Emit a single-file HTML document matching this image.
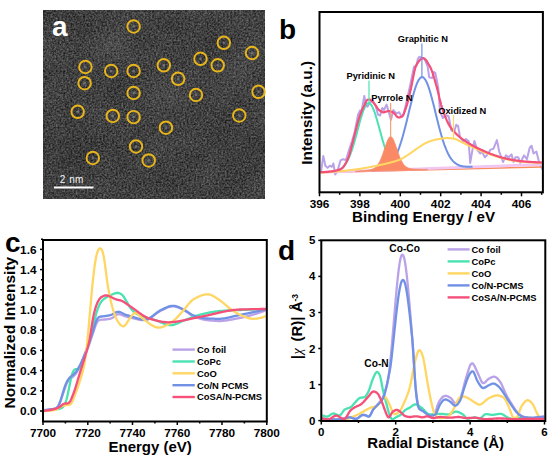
<!DOCTYPE html>
<html><head><meta charset="utf-8"><style>
html,body{margin:0;padding:0;background:#fff;width:550px;height:461px;overflow:hidden}
svg{display:block;font-family:"Liberation Sans", sans-serif}
</style></head><body>
<svg width="550" height="461" viewBox="0 0 550 461">
<defs>
<filter id="noise" x="43.3" y="10.2" width="221.7" height="188.4" filterUnits="userSpaceOnUse" color-interpolation-filters="sRGB">
<feTurbulence type="fractalNoise" baseFrequency="0.55" numOctaves="2" seed="4" result="t1"/>
<feColorMatrix in="t1" type="matrix" values="1 0 0 0 0  1 0 0 0 0  1 0 0 0 0  0 0 0 0 1" result="n1"/>
<feTurbulence type="fractalNoise" baseFrequency="0.03" numOctaves="2" seed="11" result="t2"/>
<feColorMatrix in="t2" type="matrix" values="1 0 0 0 0  1 0 0 0 0  1 0 0 0 0  0 0 0 0 1" result="n2"/>
<feComposite in="n1" in2="n2" operator="arithmetic" k1="0" k2="0.85" k3="0.15" k4="0" result="c"/>
<feComponentTransfer in="c"><feFuncR type="linear" slope="0.55" intercept="-0.02"/><feFuncG type="linear" slope="0.55" intercept="-0.02"/><feFuncB type="linear" slope="0.55" intercept="-0.02"/></feComponentTransfer>
</filter>
<radialGradient id="rgfff"><stop offset="0" stop-color="#fff" stop-opacity="1"/><stop offset="1" stop-color="#fff" stop-opacity="0"/></radialGradient>
<radialGradient id="rg000"><stop offset="0" stop-color="#000" stop-opacity="1"/><stop offset="1" stop-color="#000" stop-opacity="0"/></radialGradient>
</defs>
<rect width="550" height="461" fill="#fff"/>
<rect x="43.3" y="10.2" width="221.7" height="188.4" fill="#000" filter="url(#noise)"/>
<clipPath id="clipa"><rect x="43.3" y="10.2" width="221.7" height="188.4"/></clipPath>
<g clip-path="url(#clipa)">
<ellipse cx="108" cy="48" rx="30" ry="22" fill="url(#rgfff)" opacity="0.05"/>
<ellipse cx="170" cy="100" rx="32" ry="28" fill="url(#rgfff)" opacity="0.06"/>
<ellipse cx="236" cy="70" rx="36" ry="30" fill="url(#rgfff)" opacity="0.05"/>
<ellipse cx="62" cy="162" rx="30" ry="40" fill="url(#rg000)" opacity="0.1"/>
<ellipse cx="232" cy="150" rx="40" ry="28" fill="url(#rg000)" opacity="0.08"/>
<ellipse cx="172" cy="22" rx="30" ry="14" fill="url(#rg000)" opacity="0.06"/>
</g>
<text x="52" y="36" font-size="28" font-weight="bold" text-anchor="start" fill="#fff" >a</text>
<circle cx="133.6" cy="26.5" r="1.4" fill="#9a9a9a" opacity="0.5"/>
<circle cx="133.6" cy="26.5" r="6.25" fill="none" stroke="#e8b51a" stroke-width="1.95"/>
<circle cx="223.8" cy="42.8" r="1.4" fill="#9a9a9a" opacity="0.5"/>
<circle cx="223.8" cy="42.8" r="6.25" fill="none" stroke="#e8b51a" stroke-width="1.95"/>
<circle cx="252" cy="53" r="1.4" fill="#9a9a9a" opacity="0.5"/>
<circle cx="252" cy="53" r="6.25" fill="none" stroke="#e8b51a" stroke-width="1.95"/>
<circle cx="200.5" cy="58.8" r="1.4" fill="#9a9a9a" opacity="0.5"/>
<circle cx="200.5" cy="58.8" r="6.25" fill="none" stroke="#e8b51a" stroke-width="1.95"/>
<circle cx="217.7" cy="65.3" r="1.4" fill="#9a9a9a" opacity="0.5"/>
<circle cx="217.7" cy="65.3" r="6.25" fill="none" stroke="#e8b51a" stroke-width="1.95"/>
<circle cx="163.8" cy="65.3" r="1.4" fill="#9a9a9a" opacity="0.5"/>
<circle cx="163.8" cy="65.3" r="6.25" fill="none" stroke="#e8b51a" stroke-width="1.95"/>
<circle cx="85.4" cy="67" r="1.4" fill="#9a9a9a" opacity="0.5"/>
<circle cx="85.4" cy="67" r="6.25" fill="none" stroke="#e8b51a" stroke-width="1.95"/>
<circle cx="111.2" cy="71" r="1.4" fill="#9a9a9a" opacity="0.5"/>
<circle cx="111.2" cy="71" r="6.25" fill="none" stroke="#e8b51a" stroke-width="1.95"/>
<circle cx="133.6" cy="71" r="1.4" fill="#9a9a9a" opacity="0.5"/>
<circle cx="133.6" cy="71" r="6.25" fill="none" stroke="#e8b51a" stroke-width="1.95"/>
<circle cx="178.1" cy="78.8" r="1.4" fill="#9a9a9a" opacity="0.5"/>
<circle cx="178.1" cy="78.8" r="6.25" fill="none" stroke="#e8b51a" stroke-width="1.95"/>
<circle cx="84.6" cy="83.2" r="1.4" fill="#9a9a9a" opacity="0.5"/>
<circle cx="84.6" cy="83.2" r="6.25" fill="none" stroke="#e8b51a" stroke-width="1.95"/>
<circle cx="133.6" cy="93" r="1.4" fill="#9a9a9a" opacity="0.5"/>
<circle cx="133.6" cy="93" r="6.25" fill="none" stroke="#e8b51a" stroke-width="1.95"/>
<circle cx="196" cy="95" r="1.4" fill="#9a9a9a" opacity="0.5"/>
<circle cx="196" cy="95" r="6.25" fill="none" stroke="#e8b51a" stroke-width="1.95"/>
<circle cx="258.5" cy="91.8" r="1.4" fill="#9a9a9a" opacity="0.5"/>
<circle cx="258.5" cy="91.8" r="6.25" fill="none" stroke="#e8b51a" stroke-width="1.95"/>
<circle cx="77.7" cy="111.8" r="1.4" fill="#9a9a9a" opacity="0.5"/>
<circle cx="77.7" cy="111.8" r="6.25" fill="none" stroke="#e8b51a" stroke-width="1.95"/>
<circle cx="112.8" cy="115.9" r="1.4" fill="#9a9a9a" opacity="0.5"/>
<circle cx="112.8" cy="115.9" r="6.25" fill="none" stroke="#e8b51a" stroke-width="1.95"/>
<circle cx="133.6" cy="117.1" r="1.4" fill="#9a9a9a" opacity="0.5"/>
<circle cx="133.6" cy="117.1" r="6.25" fill="none" stroke="#e8b51a" stroke-width="1.95"/>
<circle cx="239.3" cy="115.5" r="1.4" fill="#9a9a9a" opacity="0.5"/>
<circle cx="239.3" cy="115.5" r="6.25" fill="none" stroke="#e8b51a" stroke-width="1.95"/>
<circle cx="165.9" cy="127.7" r="1.4" fill="#9a9a9a" opacity="0.5"/>
<circle cx="165.9" cy="127.7" r="6.25" fill="none" stroke="#e8b51a" stroke-width="1.95"/>
<circle cx="136" cy="146.5" r="1.4" fill="#9a9a9a" opacity="0.5"/>
<circle cx="136" cy="146.5" r="6.25" fill="none" stroke="#e8b51a" stroke-width="1.95"/>
<circle cx="92.8" cy="158" r="1.4" fill="#9a9a9a" opacity="0.5"/>
<circle cx="92.8" cy="158" r="6.25" fill="none" stroke="#e8b51a" stroke-width="1.95"/>
<circle cx="148.7" cy="160.4" r="1.4" fill="#9a9a9a" opacity="0.5"/>
<circle cx="148.7" cy="160.4" r="6.25" fill="none" stroke="#e8b51a" stroke-width="1.95"/>
<rect x="54" y="186.5" width="39.5" height="2" fill="#fff"/>
<text x="71.5" y="183" font-size="10" font-weight="normal" text-anchor="middle" fill="#f4f4f4" >2&#8201;&#8201;nm</text>
<text x="279" y="39" font-size="28" font-weight="bold" text-anchor="start" fill="#000" >b</text>
<clipPath id="clipb"><rect x="320.5" y="13" width="221.39999999999998" height="178.3"/></clipPath>
<g clip-path="url(#clipb)">
<path d="M320.0 171.5 L321.1 171.1 L323.3 155.9 L325.4 165.7 L327.6 167.9 L329.8 165.7 L331.9 166.8 L333.4 163.5 L335.2 174.4 L337.4 171.1 L340.6 160.3 L342.8 159.2 L346.0 160.0 L349.0 150.0 L352.0 141.0 L354.7 132.0 L358.0 114.7 L360.1 110.4 L361.5 111.5 L364.3 96.0 L365.9 104.6 L367.5 106.8 L369.2 103.5 L372.5 100.3 L375.7 105.7 L377.9 114.5 L380.1 115.5 L382.3 107.9 L383.9 110.1 L386.6 104.6 L388.8 112.3 L391.0 119.9 L393.2 110.1 L396.5 113.4 L399.2 112.3 L401.8 116.9 L403.4 115.3 L407.2 98.6 L410.2 85.0 L414.0 66.7 L416.3 66.0 L417.8 59.1 L419.3 56.8 L421.6 57.6 L424.6 59.1 L427.7 66.7 L429.2 77.4 L432.2 78.1 L433.8 72.0 L435.3 72.8 L438.3 88.0 L440.0 111.5 L442.9 118.0 L445.7 115.3 L448.6 116.2 L451.5 130.5 L454.3 131.5 L456.2 124.8 L458.1 125.8 L460.0 137.2 L462.9 141.0 L465.8 139.1 L468.6 141.0 L470.2 163.0 L472.5 149.6 L474.4 141.0 L477.2 149.6 L480.1 153.5 L482.0 151.5 L484.9 157.3 L487.7 154.4 L490.6 149.6 L493.5 148.7 L496.9 140.1 L499.2 151.5 L503.0 162.0 L505.9 155.4 L508.7 157.3 L511.6 154.4 L513.5 162.0 L515.4 157.3 L518.3 157.3 L520.2 163.0 L524.0 155.4 L526.9 159.2 L529.7 147.7 L531.6 145.8 L533.5 153.5 L536.4 151.5 L539.3 163.0 L542.1 168.7 L544.0 170.0" fill="none" stroke="#baa2e8" stroke-width="2" stroke-linejoin="round"/>
<path d="M319.5 172.5 L542.9 166.9" stroke="#f98c5e" stroke-width="1.5"/>
<path d="M319.5 172.4 L542.9 164.4" stroke="#f1c6f3" stroke-width="2.8"/>
<path d="M330.5 171.9 L331.0 171.8 L331.5 171.8 L332.0 171.7 L332.5 171.6 L333.0 171.6 L333.5 171.5 L334.0 171.4 L334.5 171.3 L335.0 171.2 L335.5 171.1 L336.0 171.0 L336.5 170.9 L337.0 170.7 L337.5 170.5 L338.0 170.3 L338.5 170.1 L339.0 169.9 L339.5 169.7 L340.0 169.4 L340.5 169.1 L341.0 168.7 L341.5 168.4 L342.0 168.0 L342.5 167.5 L343.0 167.1 L343.5 166.6 L344.0 166.0 L344.5 165.4 L345.0 164.7 L345.5 164.0 L346.0 163.3 L346.5 162.5 L347.0 161.6 L347.5 160.7 L348.0 159.7 L348.5 158.7 L349.0 157.6 L349.5 156.4 L350.0 155.2 L350.5 153.9 L351.0 152.5 L351.5 151.1 L352.0 149.6 L352.5 148.1 L353.0 146.5 L353.5 144.9 L354.0 143.2 L354.5 141.5 L355.0 139.7 L355.5 137.9 L356.0 136.1 L356.5 134.2 L357.0 132.4 L357.5 130.5 L358.0 128.6 L358.5 126.7 L359.0 124.9 L359.5 123.0 L360.0 121.2 L360.5 119.5 L361.0 117.8 L361.5 116.1 L362.0 114.5 L362.5 113.0 L363.0 111.6 L363.5 110.2 L364.0 109.0 L364.5 107.8 L365.0 106.8 L365.5 105.9 L366.0 105.1 L366.5 104.4 L367.0 103.9 L367.5 103.5 L368.0 103.3 L368.5 103.2 L369.0 103.2 L369.5 103.3 L370.0 103.6 L370.5 104.1 L371.0 104.7 L371.5 105.4 L372.0 106.2 L372.5 107.1 L373.0 108.2 L373.5 109.3 L374.0 110.6 L374.5 112.0 L375.0 113.4 L375.5 115.0 L376.0 116.6 L376.5 118.2 L377.0 119.9 L377.5 121.7 L378.0 123.5 L378.5 125.3 L379.0 127.1 L379.5 128.9 L380.0 130.8 L380.5 132.6 L381.0 134.4 L381.5 136.2 L382.0 138.0 L382.5 139.8 L383.0 141.5 L383.5 143.1 L384.0 144.8 L384.5 146.3 L385.0 147.8 L385.5 149.3 L386.0 150.7 L386.5 152.0 L387.0 153.3 L387.5 154.5 L388.0 155.7 L388.5 156.8 L389.0 157.8 L389.5 158.8 L390.0 159.7 L390.5 160.6 L391.0 161.4 L391.5 162.1 L392.0 162.8 L392.5 163.4 L393.0 164.0 L393.5 164.5 L394.0 165.0 L394.5 165.5 L395.0 165.9 L395.5 166.3 L396.0 166.6 L396.5 166.9 L397.0 167.2 L397.5 167.5 L398.0 167.7 L398.5 167.9 L399.0 168.1 L399.5 168.2 L400.0 168.4 L400.5 168.5 L401.0 168.6 L401.5 168.7 L402.0 168.8 L402.5 168.8 L403.0 168.9 L403.5 169.0 L404.0 169.0 L404.5 169.0 L405.0 169.1 L405.5 169.1 L406.0 169.1 L406.5 169.1 L407.0 169.1" fill="none" stroke="#4be2b2" stroke-width="2"/>
<path d="M371.5 170.5 L372.0 170.4 L372.5 170.4 L373.0 170.4 L373.5 170.3 L374.0 170.3 L374.5 170.3 L375.0 170.2 L375.5 170.2 L376.0 170.1 L376.5 170.1 L377.0 170.0 L377.5 169.9 L378.0 169.9 L378.5 169.8 L379.0 169.7 L379.5 169.6 L380.0 169.5 L380.5 169.4 L381.0 169.3 L381.5 169.2 L382.0 169.0 L382.5 168.9 L383.0 168.7 L383.5 168.5 L384.0 168.4 L384.5 168.1 L385.0 167.9 L385.5 167.7 L386.0 167.4 L386.5 167.1 L387.0 166.8 L387.5 166.5 L388.0 166.1 L388.5 165.7 L389.0 165.3 L389.5 164.8 L390.0 164.4 L390.5 163.8 L391.0 163.3 L391.5 162.7 L392.0 162.1 L392.5 161.4 L393.0 160.7 L393.5 159.9 L394.0 159.1 L394.5 158.2 L395.0 157.3 L395.5 156.3 L396.0 155.3 L396.5 154.3 L397.0 153.1 L397.5 152.0 L398.0 150.7 L398.5 149.4 L399.0 148.1 L399.5 146.7 L400.0 145.2 L400.5 143.7 L401.0 142.2 L401.5 140.5 L402.0 138.9 L402.5 137.2 L403.0 135.4 L403.5 133.6 L404.0 131.7 L404.5 129.8 L405.0 127.9 L405.5 125.9 L406.0 123.9 L406.5 121.9 L407.0 119.9 L407.5 117.8 L408.0 115.7 L408.5 113.7 L409.0 111.6 L409.5 109.5 L410.0 107.5 L410.5 105.4 L411.0 103.4 L411.5 101.4 L412.0 99.5 L412.5 97.6 L413.0 95.7 L413.5 93.9 L414.0 92.2 L414.5 90.5 L415.0 88.9 L415.5 87.4 L416.0 86.0 L416.5 84.6 L417.0 83.4 L417.5 82.2 L418.0 81.2 L418.5 80.3 L419.0 79.5 L419.5 78.8 L420.0 78.2 L420.5 77.7 L421.0 77.4 L421.5 77.2 L422.0 77.1 L422.5 77.2 L423.0 77.3 L423.5 77.6 L424.0 78.1 L424.5 78.6 L425.0 79.3 L425.5 80.0 L426.0 80.9 L426.5 81.9 L427.0 83.0 L427.5 84.2 L428.0 85.5 L428.5 86.9 L429.0 88.4 L429.5 90.0 L430.0 91.6 L430.5 93.3 L431.0 95.1 L431.5 96.9 L432.0 98.7 L432.5 100.7 L433.0 102.6 L433.5 104.6 L434.0 106.6 L434.5 108.6 L435.0 110.6 L435.5 112.7 L436.0 114.7 L436.5 116.8 L437.0 118.8 L437.5 120.8 L438.0 122.8 L438.5 124.7 L439.0 126.7 L439.5 128.6 L440.0 130.4 L440.5 132.2 L441.0 134.0 L441.5 135.8 L442.0 137.4 L442.5 139.1 L443.0 140.7 L443.5 142.2 L444.0 143.7 L444.5 145.1 L445.0 146.4 L445.5 147.7 L446.0 149.0 L446.5 150.2 L447.0 151.3 L447.5 152.4 L448.0 153.5 L448.5 154.4 L449.0 155.4 L449.5 156.2 L450.0 157.1 L450.5 157.8 L451.0 158.6 L451.5 159.3 L452.0 159.9 L452.5 160.5 L453.0 161.1 L453.5 161.6 L454.0 162.1 L454.5 162.5 L455.0 162.9 L455.5 163.3 L456.0 163.7 L456.5 164.0 L457.0 164.3 L457.5 164.6 L458.0 164.8 L458.5 165.0 L459.0 165.3 L459.5 165.4 L460.0 165.6 L460.5 165.8 L461.0 165.9 L461.5 166.0 L462.0 166.2 L462.5 166.3 L463.0 166.3 L463.5 166.4 L464.0 166.5 L464.5 166.6 L465.0 166.6 L465.5 166.7 L466.0 166.7 L466.5 166.7 L467.0 166.8 L467.5 166.8 L468.0 166.8 L468.5 166.8 L469.0 166.8 L469.5 166.8 L470.0 166.8 L470.5 166.8 L471.0 166.8 L471.5 166.8 L472.0 166.8 L472.5 166.8" fill="none" stroke="#7191e5" stroke-width="2"/>
<path d="M355.5 171.1 L356.0 171.1 L356.5 171.1 L357.0 171.1 L357.5 171.0 L358.0 171.0 L358.5 171.0 L359.0 170.9 L359.5 170.9 L360.0 170.9 L360.5 170.8 L361.0 170.8 L361.5 170.8 L362.0 170.7 L362.5 170.7 L363.0 170.7 L363.5 170.6 L364.0 170.6 L364.5 170.5 L365.0 170.5 L365.5 170.5 L366.0 170.4 L366.5 170.3 L367.0 170.3 L367.5 170.2 L368.0 170.2 L368.5 170.1 L369.0 170.0 L369.5 169.9 L370.0 169.8 L370.5 169.7 L371.0 169.6 L371.5 169.4 L372.0 169.2 L372.5 169.1 L373.0 168.8 L373.5 168.6 L374.0 168.3 L374.5 168.0 L375.0 167.7 L375.5 167.3 L376.0 166.8 L376.5 166.3 L377.0 165.7 L377.5 165.1 L378.0 164.4 L378.5 163.6 L379.0 162.8 L379.5 161.9 L380.0 160.9 L380.5 159.8 L381.0 158.7 L381.5 157.4 L382.0 156.2 L382.5 154.8 L383.0 153.4 L383.5 152.0 L384.0 150.5 L384.5 149.0 L385.0 147.5 L385.5 146.0 L386.0 144.5 L386.5 143.1 L387.0 141.8 L387.5 140.5 L388.0 139.4 L388.5 138.5 L389.0 137.7 L389.5 137.1 L390.0 136.7 L390.5 136.5 L391.0 136.6 L391.5 136.9 L392.0 137.4 L392.5 138.0 L393.0 138.9 L393.5 139.9 L394.0 141.1 L394.5 142.4 L395.0 143.7 L395.5 145.1 L396.0 146.6 L396.5 148.1 L397.0 149.6 L397.5 151.0 L398.0 152.5 L398.5 153.9 L399.0 155.2 L399.5 156.5 L400.0 157.7 L400.5 158.9 L401.0 159.9 L401.5 160.9 L402.0 161.9 L402.5 162.7 L403.0 163.5 L403.5 164.2 L404.0 164.8 L404.5 165.4 L405.0 165.9 L405.5 166.3 L406.0 166.7 L406.5 167.1 L407.0 167.4 L407.5 167.6 L408.0 167.9 L408.5 168.1 L409.0 168.2 L409.5 168.4 L410.0 168.5 L410.5 168.6 L411.0 168.7 L411.5 168.8 L412.0 168.9 L412.5 169.0 L413.0 169.0 L413.5 169.1 L414.0 169.1 L414.5 169.1 L415.0 169.2 L415.5 169.2 L416.0 169.2 L416.5 169.2 L417.0 169.3 L417.5 169.3 L418.0 169.3 L418.5 169.3 L419.0 169.3 L419.5 169.3 L420.0 169.3 L420.5 169.3 L421.0 169.3 L421.5 169.4 L422.0 169.4 L422.5 169.4 L423.0 169.4 L423.5 169.4 L424.0 169.4 L424.5 169.4 L425.0 169.4 L425.5 169.4 L426.0 169.4 L426.5 169.4 L427.0 169.4 L427.5 169.4 L427.5 169.8 L355.5 171.6 Z" fill="#fa8966" stroke="#f98a63" stroke-width="0.8"/>
<path d="M320.0 172.6 L320.2 172.6 L320.5 172.6 L320.8 172.6 L321.0 172.6 L321.2 172.5 L321.5 172.5 L321.8 172.5 L322.0 172.5 L322.2 172.5 L322.5 172.5 L322.8 172.5 L323.0 172.5 L323.2 172.4 L323.5 172.4 L323.8 172.4 L324.0 172.4 L324.2 172.4 L324.5 172.4 L324.8 172.4 L325.0 172.3 L325.2 172.3 L325.5 172.3 L325.8 172.3 L326.0 172.3 L326.2 172.3 L326.5 172.2 L326.8 172.2 L327.0 172.2 L327.2 172.2 L327.5 172.2 L327.8 172.2 L328.0 172.1 L328.2 172.1 L328.5 172.1 L328.8 172.1 L329.0 172.1 L329.2 172.1 L329.5 172.0 L329.8 172.0 L330.0 172.0 L330.2 172.0 L330.5 172.0 L330.8 172.0 L331.0 171.9 L331.2 171.9 L331.5 171.9 L331.8 171.9 L332.0 171.9 L332.2 171.8 L332.5 171.8 L332.8 171.8 L333.0 171.8 L333.2 171.8 L333.5 171.7 L333.8 171.7 L334.0 171.7 L334.2 171.7 L334.5 171.7 L334.8 171.6 L335.0 171.6 L335.2 171.6 L335.5 171.6 L335.8 171.6 L336.0 171.5 L336.2 171.5 L336.5 171.5 L336.8 171.5 L337.0 171.5 L337.2 171.4 L337.5 171.4 L337.8 171.4 L338.0 171.4 L338.2 171.4 L338.5 171.3 L338.8 171.3 L339.0 171.3 L339.2 171.3 L339.5 171.2 L339.8 171.2 L340.0 171.2 L340.2 171.2 L340.5 171.2 L340.8 171.1 L341.0 171.1 L341.2 171.1 L341.5 171.1 L341.8 171.0 L342.0 171.0 L342.2 171.0 L342.5 171.0 L342.8 170.9 L343.0 170.9 L343.2 170.9 L343.5 170.9 L343.8 170.8 L344.0 170.8 L344.2 170.8 L344.5 170.8 L344.8 170.7 L345.0 170.7 L345.2 170.7 L345.5 170.7 L345.8 170.6 L346.0 170.6 L346.2 170.6 L346.5 170.6 L346.8 170.5 L347.0 170.5 L347.2 170.5 L347.5 170.4 L347.8 170.4 L348.0 170.4 L348.2 170.4 L348.5 170.3 L348.8 170.3 L349.0 170.3 L349.2 170.2 L349.5 170.2 L349.8 170.2 L350.0 170.1 L350.2 170.1 L350.5 170.1 L350.8 170.1 L351.0 170.0 L351.2 170.0 L351.5 170.0 L351.8 169.9 L352.0 169.9 L352.2 169.9 L352.5 169.8 L352.8 169.8 L353.0 169.8 L353.2 169.7 L353.5 169.7 L353.8 169.7 L354.0 169.6 L354.2 169.6 L354.5 169.6 L354.8 169.5 L355.0 169.5 L355.2 169.5 L355.5 169.4 L355.8 169.4 L356.0 169.4 L356.2 169.3 L356.5 169.3 L356.8 169.3 L357.0 169.2 L357.2 169.2 L357.5 169.2 L357.8 169.1 L358.0 169.1 L358.2 169.1 L358.5 169.0 L358.8 169.0 L359.0 168.9 L359.2 168.9 L359.5 168.9 L359.8 168.8 L360.0 168.8 L360.2 168.8 L360.5 168.7 L360.8 168.7 L361.0 168.7 L361.2 168.6 L361.5 168.6 L361.8 168.5 L362.0 168.5 L362.2 168.5 L362.5 168.4 L362.8 168.4 L363.0 168.3 L363.2 168.3 L363.5 168.3 L363.8 168.2 L364.0 168.2 L364.2 168.1 L364.5 168.1 L364.8 168.0 L365.0 168.0 L365.2 168.0 L365.5 167.9 L365.8 167.9 L366.0 167.8 L366.2 167.8 L366.5 167.7 L366.8 167.7 L367.0 167.7 L367.2 167.6 L367.5 167.6 L367.8 167.5 L368.0 167.5 L368.2 167.4 L368.5 167.4 L368.8 167.3 L369.0 167.3 L369.2 167.2 L369.5 167.2 L369.8 167.1 L370.0 167.1 L370.2 167.0 L370.5 167.0 L370.8 166.9 L371.0 166.9 L371.2 166.9 L371.5 166.8 L371.8 166.8 L372.0 166.7 L372.2 166.7 L372.5 166.6 L372.8 166.6 L373.0 166.5 L373.2 166.5 L373.5 166.4 L373.8 166.3 L374.0 166.3 L374.2 166.2 L374.5 166.2 L374.8 166.1 L375.0 166.1 L375.2 166.0 L375.5 166.0 L375.8 165.9 L376.0 165.9 L376.2 165.8 L376.5 165.8 L376.8 165.7 L377.0 165.7 L377.2 165.6 L377.5 165.6 L377.8 165.5 L378.0 165.4 L378.2 165.4 L378.5 165.3 L378.8 165.3 L379.0 165.2 L379.2 165.2 L379.5 165.1 L379.8 165.1 L380.0 165.0 L380.2 164.9 L380.5 164.9 L380.8 164.8 L381.0 164.8 L381.2 164.7 L381.5 164.7 L381.8 164.6 L382.0 164.6 L382.2 164.5 L382.5 164.4 L382.8 164.4 L383.0 164.3 L383.2 164.3 L383.5 164.2 L383.8 164.2 L384.0 164.1 L384.2 164.0 L384.5 164.0 L384.8 163.9 L385.0 163.9 L385.2 163.8 L385.5 163.8 L385.8 163.7 L386.0 163.6 L386.2 163.6 L386.5 163.5 L386.8 163.5 L387.0 163.4 L387.2 163.4 L387.5 163.3 L387.8 163.2 L388.0 163.2 L388.2 163.1 L388.5 163.1 L388.8 163.0 L389.0 162.9 L389.2 162.9 L389.5 162.8 L389.8 162.7 L390.0 162.7 L390.2 162.6 L390.5 162.5 L390.8 162.5 L391.0 162.4 L391.2 162.3 L391.5 162.3 L391.8 162.2 L392.0 162.1 L392.2 162.1 L392.5 162.0 L392.8 161.9 L393.0 161.9 L393.2 161.8 L393.5 161.7 L393.8 161.6 L394.0 161.6 L394.2 161.5 L394.5 161.4 L394.8 161.3 L395.0 161.3 L395.2 161.2 L395.5 161.1 L395.8 161.0 L396.0 160.9 L396.2 160.9 L396.5 160.8 L396.8 160.7 L397.0 160.6 L397.2 160.5 L397.5 160.4 L397.8 160.3 L398.0 160.3 L398.2 160.2 L398.5 160.1 L398.8 160.0 L399.0 159.9 L399.2 159.8 L399.5 159.7 L399.8 159.6 L400.0 159.5 L400.2 159.4 L400.5 159.3 L400.8 159.2 L401.0 159.1 L401.2 159.0 L401.5 158.8 L401.8 158.7 L402.0 158.6 L402.2 158.4 L402.5 158.3 L402.8 158.2 L403.0 158.0 L403.2 157.9 L403.5 157.7 L403.8 157.6 L404.0 157.4 L404.2 157.3 L404.5 157.1 L404.8 157.0 L405.0 156.8 L405.2 156.6 L405.5 156.5 L405.8 156.3 L406.0 156.1 L406.2 156.0 L406.5 155.8 L406.8 155.6 L407.0 155.5 L407.2 155.3 L407.5 155.2 L407.8 155.0 L408.0 154.8 L408.2 154.7 L408.5 154.5 L408.8 154.3 L409.0 154.2 L409.2 154.0 L409.5 153.8 L409.8 153.7 L410.0 153.5 L410.2 153.3 L410.5 153.2 L410.8 153.0 L411.0 152.8 L411.2 152.6 L411.5 152.5 L411.8 152.3 L412.0 152.1 L412.2 151.9 L412.5 151.7 L412.8 151.6 L413.0 151.4 L413.2 151.2 L413.5 151.0 L413.8 150.8 L414.0 150.6 L414.2 150.5 L414.5 150.3 L414.8 150.1 L415.0 149.9 L415.2 149.7 L415.5 149.6 L415.8 149.4 L416.0 149.2 L416.2 149.0 L416.5 148.8 L416.8 148.7 L417.0 148.5 L417.2 148.3 L417.5 148.2 L417.8 148.0 L418.0 147.8 L418.2 147.7 L418.5 147.5 L418.8 147.3 L419.0 147.2 L419.2 147.0 L419.5 146.9 L419.8 146.7 L420.0 146.5 L420.2 146.4 L420.5 146.2 L420.8 146.0 L421.0 145.9 L421.2 145.7 L421.5 145.5 L421.8 145.4 L422.0 145.2 L422.2 145.0 L422.5 144.9 L422.8 144.7 L423.0 144.6 L423.2 144.4 L423.5 144.3 L423.8 144.1 L424.0 144.0 L424.2 143.8 L424.5 143.7 L424.8 143.5 L425.0 143.4 L425.2 143.3 L425.5 143.1 L425.8 143.0 L426.0 142.9 L426.2 142.8 L426.5 142.6 L426.8 142.5 L427.0 142.4 L427.2 142.3 L427.5 142.2 L427.8 142.1 L428.0 142.0 L428.2 141.9 L428.5 141.8 L428.8 141.7 L429.0 141.6 L429.2 141.5 L429.5 141.4 L429.8 141.4 L430.0 141.3 L430.2 141.2 L430.5 141.1 L430.8 141.0 L431.0 140.9 L431.2 140.8 L431.5 140.8 L431.8 140.7 L432.0 140.6 L432.2 140.5 L432.5 140.4 L432.8 140.4 L433.0 140.3 L433.2 140.2 L433.5 140.2 L433.8 140.1 L434.0 140.0 L434.2 140.0 L434.5 139.9 L434.8 139.8 L435.0 139.8 L435.2 139.7 L435.5 139.7 L435.8 139.6 L436.0 139.6 L436.2 139.5 L436.5 139.5 L436.8 139.4 L437.0 139.4 L437.2 139.3 L437.5 139.3 L437.8 139.3 L438.0 139.2 L438.2 139.2 L438.5 139.1 L438.8 139.1 L439.0 139.0 L439.2 139.0 L439.5 138.9 L439.8 138.9 L440.0 138.8 L440.2 138.8 L440.5 138.8 L440.8 138.7 L441.0 138.7 L441.2 138.6 L441.5 138.6 L441.8 138.6 L442.0 138.5 L442.2 138.5 L442.5 138.5 L442.8 138.4 L443.0 138.4 L443.2 138.4 L443.5 138.3 L443.8 138.3 L444.0 138.3 L444.2 138.3 L444.5 138.2 L444.8 138.2 L445.0 138.2 L445.2 138.2 L445.5 138.2 L445.8 138.1 L446.0 138.1 L446.2 138.1 L446.5 138.1 L446.8 138.1 L447.0 138.1 L447.2 138.1 L447.5 138.1 L447.8 138.1 L448.0 138.1 L448.2 138.1 L448.5 138.1 L448.8 138.1 L449.0 138.1 L449.2 138.2 L449.5 138.2 L449.8 138.2 L450.0 138.2 L450.2 138.2 L450.5 138.3 L450.8 138.3 L451.0 138.3 L451.2 138.3 L451.5 138.4 L451.8 138.4 L452.0 138.4 L452.2 138.5 L452.5 138.5 L452.8 138.5 L453.0 138.6 L453.2 138.6 L453.5 138.6 L453.8 138.7 L454.0 138.7 L454.2 138.8 L454.5 138.8 L454.8 138.8 L455.0 138.9 L455.2 139.0 L455.5 139.0 L455.8 139.1 L456.0 139.2 L456.2 139.3 L456.5 139.4 L456.8 139.6 L457.0 139.7 L457.2 139.8 L457.5 139.9 L457.8 140.1 L458.0 140.2 L458.2 140.4 L458.5 140.5 L458.8 140.6 L459.0 140.8 L459.2 140.9 L459.5 141.1 L459.8 141.2 L460.0 141.3 L460.2 141.5 L460.5 141.6 L460.8 141.7 L461.0 141.8 L461.2 142.0 L461.5 142.1 L461.8 142.2 L462.0 142.3 L462.2 142.5 L462.5 142.6 L462.8 142.7 L463.0 142.8 L463.2 143.0 L463.5 143.1 L463.8 143.2 L464.0 143.3 L464.2 143.5 L464.5 143.6 L464.8 143.7 L465.0 143.8 L465.2 144.0 L465.5 144.1 L465.8 144.2 L466.0 144.3 L466.2 144.4 L466.5 144.5 L466.8 144.7 L467.0 144.8 L467.2 144.9 L467.5 145.0 L467.8 145.1 L468.0 145.2 L468.2 145.3 L468.5 145.4 L468.8 145.5 L469.0 145.6 L469.2 145.7 L469.5 145.8 L469.8 145.9 L470.0 146.0 L470.2 146.1 L470.5 146.2 L470.8 146.4 L471.0 146.5 L471.2 146.6 L471.5 146.7 L471.8 146.8 L472.0 146.9 L472.2 147.0 L472.5 147.1 L472.8 147.2 L473.0 147.3 L473.2 147.4 L473.5 147.6 L473.8 147.7 L474.0 147.8 L474.2 147.9 L474.5 148.0 L474.8 148.1 L475.0 148.3 L475.2 148.4 L475.5 148.5 L475.8 148.6 L476.0 148.7 L476.2 148.8 L476.5 149.0 L476.8 149.1 L477.0 149.2 L477.2 149.3 L477.5 149.4 L477.8 149.5 L478.0 149.6 L478.2 149.8 L478.5 149.9 L478.8 150.0 L479.0 150.1 L479.2 150.2 L479.5 150.3 L479.8 150.4 L480.0 150.6 L480.2 150.7 L480.5 150.8 L480.8 150.9 L481.0 151.0 L481.2 151.1 L481.5 151.2 L481.8 151.3 L482.0 151.4 L482.2 151.5 L482.5 151.6 L482.8 151.7 L483.0 151.8 L483.2 151.9 L483.5 152.0 L483.8 152.1 L484.0 152.2 L484.2 152.3 L484.5 152.4 L484.8 152.5 L485.0 152.6 L485.2 152.7 L485.5 152.8 L485.8 152.9 L486.0 153.0 L486.2 153.1 L486.5 153.2 L486.8 153.2 L487.0 153.3 L487.2 153.4 L487.5 153.5 L487.8 153.6 L488.0 153.7 L488.2 153.8 L488.5 153.9 L488.8 154.0 L489.0 154.1 L489.2 154.1 L489.5 154.2 L489.8 154.3 L490.0 154.4 L490.2 154.5 L490.5 154.6 L490.8 154.7 L491.0 154.7 L491.2 154.8 L491.5 154.9 L491.8 155.0 L492.0 155.1 L492.2 155.2 L492.5 155.2 L492.8 155.3 L493.0 155.4 L493.2 155.5 L493.5 155.6 L493.8 155.6 L494.0 155.7 L494.2 155.8 L494.5 155.9 L494.8 156.0 L495.0 156.1 L495.2 156.1 L495.5 156.2 L495.8 156.3 L496.0 156.4 L496.2 156.4 L496.5 156.5 L496.8 156.6 L497.0 156.7 L497.2 156.8 L497.5 156.8 L497.8 156.9 L498.0 157.0 L498.2 157.1 L498.5 157.1 L498.8 157.2 L499.0 157.3 L499.2 157.4 L499.5 157.4 L499.8 157.5 L500.0 157.6 L500.2 157.7 L500.5 157.7 L500.8 157.8 L501.0 157.9 L501.2 158.0 L501.5 158.0 L501.8 158.1 L502.0 158.2 L502.2 158.2 L502.5 158.3 L502.8 158.4 L503.0 158.4 L503.2 158.5 L503.5 158.6 L503.8 158.6 L504.0 158.7 L504.2 158.7 L504.5 158.8 L504.8 158.9 L505.0 158.9 L505.2 159.0 L505.5 159.0 L505.8 159.1 L506.0 159.2 L506.2 159.2 L506.5 159.3 L506.8 159.3 L507.0 159.4 L507.2 159.4 L507.5 159.5 L507.8 159.6 L508.0 159.6 L508.2 159.7 L508.5 159.7 L508.8 159.8 L509.0 159.8 L509.2 159.9 L509.5 159.9 L509.8 160.0 L510.0 160.1 L510.2 160.1 L510.5 160.2 L510.8 160.2 L511.0 160.3 L511.2 160.3 L511.5 160.4 L511.8 160.4 L512.0 160.4 L512.2 160.5 L512.5 160.5 L512.8 160.6 L513.0 160.6 L513.2 160.7 L513.5 160.7 L513.8 160.8 L514.0 160.8 L514.2 160.8 L514.5 160.9 L514.8 160.9 L515.0 161.0 L515.2 161.0 L515.5 161.0 L515.8 161.1 L516.0 161.1 L516.2 161.1 L516.5 161.2 L516.8 161.2 L517.0 161.2 L517.2 161.3 L517.5 161.3 L517.8 161.3 L518.0 161.4 L518.2 161.4 L518.5 161.4 L518.8 161.4 L519.0 161.5 L519.2 161.5 L519.5 161.5 L519.8 161.5 L520.0 161.6 L520.2 161.6 L520.5 161.6 L520.8 161.7 L521.0 161.7 L521.2 161.7 L521.5 161.7 L521.8 161.7 L522.0 161.8 L522.2 161.8 L522.5 161.8 L522.8 161.8 L523.0 161.9 L523.2 161.9 L523.5 161.9 L523.8 161.9 L524.0 161.9 L524.2 162.0 L524.5 162.0 L524.8 162.0 L525.0 162.0 L525.2 162.0 L525.5 162.1 L525.8 162.1 L526.0 162.1 L526.2 162.1 L526.5 162.1 L526.8 162.2 L527.0 162.2 L527.2 162.2 L527.5 162.2 L527.8 162.2 L528.0 162.2 L528.2 162.3 L528.5 162.3 L528.8 162.3 L529.0 162.3 L529.2 162.3 L529.5 162.3 L529.8 162.4 L530.0 162.4 L530.2 162.4 L530.5 162.4 L530.8 162.4 L531.0 162.4 L531.2 162.5 L531.5 162.5 L531.8 162.5 L532.0 162.5 L532.2 162.5 L532.5 162.5 L532.8 162.5 L533.0 162.6 L533.2 162.6 L533.5 162.6 L533.8 162.6 L534.0 162.6 L534.2 162.6 L534.5 162.7 L534.8 162.7 L535.0 162.7 L535.2 162.7 L535.5 162.7 L535.8 162.7 L536.0 162.7 L536.2 162.7 L536.5 162.8 L536.8 162.8 L537.0 162.8 L537.2 162.8 L537.5 162.8 L537.8 162.8 L538.0 162.8 L538.2 162.8 L538.5 162.8 L538.8 162.9 L539.0 162.9 L539.2 162.9 L539.5 162.9 L539.8 162.9 L540.0 162.9 L540.2 162.9 L540.5 162.9 L540.8 162.9 L541.0 162.9 L541.2 163.0 L541.5 163.0 L541.8 163.0 L542.0 163.0 L542.2 163.0 L542.5 163.0 L542.8 163.0 L543.0 163.0" fill="none" stroke="#ffd662" stroke-width="2"/>
<path d="M320.0 172.2 L320.2 172.2 L320.5 172.2 L320.8 172.2 L321.0 172.2 L321.2 172.2 L321.5 172.2 L321.8 172.2 L322.0 172.2 L322.2 172.2 L322.5 172.1 L322.8 172.1 L323.0 172.1 L323.2 172.1 L323.5 172.1 L323.8 172.1 L324.0 172.1 L324.2 172.1 L324.5 172.0 L324.8 172.0 L325.0 172.0 L325.2 172.0 L325.5 172.0 L325.8 172.0 L326.0 171.9 L326.2 171.9 L326.5 171.9 L326.8 171.9 L327.0 171.9 L327.2 171.8 L327.5 171.8 L327.8 171.8 L328.0 171.8 L328.2 171.8 L328.5 171.7 L328.8 171.7 L329.0 171.7 L329.2 171.7 L329.5 171.6 L329.8 171.6 L330.0 171.6 L330.2 171.6 L330.5 171.6 L330.8 171.5 L331.0 171.5 L331.2 171.5 L331.5 171.4 L331.8 171.4 L332.0 171.4 L332.2 171.3 L332.5 171.3 L332.8 171.2 L333.0 171.2 L333.2 171.2 L333.5 171.1 L333.8 171.1 L334.0 171.0 L334.2 171.0 L334.5 170.9 L334.8 170.9 L335.0 170.8 L335.2 170.8 L335.5 170.7 L335.8 170.7 L336.0 170.6 L336.2 170.5 L336.5 170.5 L336.8 170.4 L337.0 170.4 L337.2 170.3 L337.5 170.2 L337.8 170.2 L338.0 170.1 L338.2 170.0 L338.5 169.9 L338.8 169.8 L339.0 169.8 L339.2 169.7 L339.5 169.6 L339.8 169.5 L340.0 169.4 L340.2 169.3 L340.5 169.1 L340.8 169.0 L341.0 168.9 L341.2 168.8 L341.5 168.6 L341.8 168.5 L342.0 168.3 L342.2 168.1 L342.5 167.9 L342.8 167.7 L343.0 167.4 L343.2 167.1 L343.5 166.8 L343.8 166.5 L344.0 166.1 L344.2 165.7 L344.5 165.4 L344.8 164.9 L345.0 164.5 L345.2 164.1 L345.5 163.6 L345.8 163.2 L346.0 162.7 L346.2 162.2 L346.5 161.7 L346.8 161.2 L347.0 160.6 L347.2 160.1 L347.5 159.6 L347.8 159.0 L348.0 158.5 L348.2 157.9 L348.5 157.3 L348.8 156.6 L349.0 155.9 L349.2 155.1 L349.5 154.3 L349.8 153.4 L350.0 152.6 L350.2 151.6 L350.5 150.7 L350.8 149.8 L351.0 148.8 L351.2 147.8 L351.5 146.8 L351.8 145.9 L352.0 144.9 L352.2 143.9 L352.5 143.0 L352.8 142.1 L353.0 141.1 L353.2 140.1 L353.5 139.1 L353.8 138.1 L354.0 137.1 L354.2 136.1 L354.5 135.1 L354.8 134.1 L355.0 133.1 L355.2 132.1 L355.5 131.1 L355.8 130.2 L356.0 129.3 L356.2 128.3 L356.5 127.4 L356.8 126.4 L357.0 125.5 L357.2 124.6 L357.5 123.6 L357.8 122.7 L358.0 121.8 L358.2 120.9 L358.5 120.0 L358.8 119.2 L359.0 118.3 L359.2 117.5 L359.5 116.8 L359.8 116.0 L360.0 115.3 L360.2 114.6 L360.5 113.9 L360.8 113.3 L361.0 112.6 L361.2 112.0 L361.5 111.4 L361.8 110.8 L362.0 110.2 L362.2 109.7 L362.5 109.1 L362.8 108.6 L363.0 108.0 L363.2 107.5 L363.5 107.0 L363.8 106.5 L364.0 106.0 L364.2 105.5 L364.5 105.0 L364.8 104.5 L365.0 104.0 L365.2 103.4 L365.5 102.8 L365.8 102.3 L366.0 101.8 L366.2 101.3 L366.5 100.8 L366.8 100.4 L367.0 100.1 L367.2 99.9 L367.5 99.8 L367.8 99.7 L368.0 99.7 L368.2 99.6 L368.5 99.6 L368.8 99.5 L369.0 99.5 L369.2 99.5 L369.5 99.5 L369.8 99.5 L370.0 99.6 L370.2 99.7 L370.5 99.8 L370.8 100.0 L371.0 100.2 L371.2 100.4 L371.5 100.6 L371.8 100.8 L372.0 101.1 L372.2 101.4 L372.5 101.7 L372.8 102.0 L373.0 102.3 L373.2 102.5 L373.5 102.8 L373.8 103.1 L374.0 103.4 L374.2 103.7 L374.5 104.0 L374.8 104.3 L375.0 104.6 L375.2 105.0 L375.5 105.3 L375.8 105.7 L376.0 106.1 L376.2 106.5 L376.5 106.9 L376.8 107.2 L377.0 107.6 L377.2 108.0 L377.5 108.3 L377.8 108.7 L378.0 109.0 L378.2 109.3 L378.5 109.6 L378.8 109.8 L379.0 110.0 L379.2 110.2 L379.5 110.4 L379.8 110.6 L380.0 110.7 L380.2 110.9 L380.5 111.1 L380.8 111.3 L381.0 111.4 L381.2 111.6 L381.5 111.7 L381.8 111.9 L382.0 112.0 L382.2 112.1 L382.5 112.2 L382.8 112.2 L383.0 112.3 L383.2 112.3 L383.5 112.3 L383.8 112.3 L384.0 112.3 L384.2 112.2 L384.5 112.2 L384.8 112.1 L385.0 112.0 L385.2 111.9 L385.5 111.9 L385.8 111.8 L386.0 111.7 L386.2 111.6 L386.5 111.5 L386.8 111.4 L387.0 111.3 L387.2 111.3 L387.5 111.2 L387.8 111.1 L388.0 111.1 L388.2 111.0 L388.5 111.0 L388.8 111.0 L389.0 111.0 L389.2 111.0 L389.5 111.1 L389.8 111.1 L390.0 111.2 L390.2 111.2 L390.5 111.3 L390.8 111.4 L391.0 111.5 L391.2 111.6 L391.5 111.7 L391.8 111.8 L392.0 111.9 L392.2 112.0 L392.5 112.2 L392.8 112.3 L393.0 112.4 L393.2 112.5 L393.5 112.7 L393.8 112.9 L394.0 113.1 L394.2 113.3 L394.5 113.6 L394.8 113.9 L395.0 114.2 L395.2 114.5 L395.5 114.8 L395.8 115.1 L396.0 115.5 L396.2 115.8 L396.5 116.1 L396.8 116.3 L397.0 116.6 L397.2 116.8 L397.5 117.0 L397.8 117.2 L398.0 117.4 L398.2 117.5 L398.5 117.5 L398.8 117.5 L399.0 117.5 L399.2 117.5 L399.5 117.4 L399.8 117.4 L400.0 117.3 L400.2 117.2 L400.5 117.1 L400.8 117.0 L401.0 116.9 L401.2 116.8 L401.5 116.7 L401.8 116.6 L402.0 116.4 L402.2 116.2 L402.5 116.0 L402.8 115.6 L403.0 115.2 L403.2 114.8 L403.5 114.3 L403.8 113.8 L404.0 113.2 L404.2 112.5 L404.5 111.9 L404.8 111.2 L405.0 110.5 L405.2 109.8 L405.5 109.1 L405.8 108.4 L406.0 107.7 L406.2 106.9 L406.5 106.2 L406.8 105.4 L407.0 104.6 L407.2 103.7 L407.5 102.8 L407.8 101.9 L408.0 100.9 L408.2 99.9 L408.5 98.9 L408.8 97.8 L409.0 96.8 L409.2 95.7 L409.5 94.6 L409.8 93.6 L410.0 92.5 L410.2 91.5 L410.5 90.4 L410.8 89.4 L411.0 88.3 L411.2 87.1 L411.5 85.9 L411.8 84.7 L412.0 83.4 L412.2 82.1 L412.5 80.8 L412.8 79.5 L413.0 78.2 L413.2 76.9 L413.5 75.6 L413.8 74.4 L414.0 73.2 L414.2 72.0 L414.5 70.9 L414.8 69.8 L415.0 68.9 L415.2 68.0 L415.5 67.1 L415.8 66.4 L416.0 65.8 L416.2 65.3 L416.5 64.9 L416.8 64.4 L417.0 64.0 L417.2 63.6 L417.5 63.2 L417.8 62.9 L418.0 62.5 L418.2 62.1 L418.5 61.8 L418.8 61.4 L419.0 61.1 L419.2 60.8 L419.5 60.5 L419.8 60.2 L420.0 59.9 L420.2 59.7 L420.5 59.4 L420.8 59.2 L421.0 59.0 L421.2 58.9 L421.5 58.7 L421.8 58.6 L422.0 58.4 L422.2 58.3 L422.5 58.3 L422.8 58.2 L423.0 58.2 L423.2 58.2 L423.5 58.2 L423.8 58.3 L424.0 58.4 L424.2 58.5 L424.5 58.7 L424.8 58.9 L425.0 59.1 L425.2 59.4 L425.5 59.6 L425.8 59.9 L426.0 60.2 L426.2 60.5 L426.5 60.9 L426.8 61.2 L427.0 61.6 L427.2 62.0 L427.5 62.4 L427.8 62.8 L428.0 63.2 L428.2 63.6 L428.5 64.1 L428.8 64.5 L429.0 64.9 L429.2 65.4 L429.5 65.8 L429.8 66.3 L430.0 66.7 L430.2 67.2 L430.5 67.6 L430.8 68.2 L431.0 68.7 L431.2 69.3 L431.5 70.0 L431.8 70.6 L432.0 71.3 L432.2 72.0 L432.5 72.7 L432.8 73.5 L433.0 74.2 L433.2 75.0 L433.5 75.8 L433.8 76.6 L434.0 77.5 L434.2 78.3 L434.5 79.2 L434.8 80.0 L435.0 80.9 L435.2 81.8 L435.5 82.7 L435.8 83.6 L436.0 84.5 L436.2 85.3 L436.5 86.2 L436.8 87.1 L437.0 88.0 L437.2 88.9 L437.5 89.8 L437.8 90.8 L438.0 91.8 L438.2 92.9 L438.5 93.9 L438.8 95.0 L439.0 96.1 L439.2 97.2 L439.5 98.3 L439.8 99.3 L440.0 100.4 L440.2 101.4 L440.5 102.4 L440.8 103.4 L441.0 104.3 L441.2 105.1 L441.5 106.0 L441.8 106.8 L442.0 107.6 L442.2 108.3 L442.5 109.1 L442.8 109.9 L443.0 110.6 L443.2 111.3 L443.5 112.1 L443.8 112.8 L444.0 113.5 L444.2 114.1 L444.5 114.8 L444.8 115.4 L445.0 116.1 L445.2 116.7 L445.5 117.3 L445.8 117.9 L446.0 118.5 L446.2 119.1 L446.5 119.7 L446.8 120.2 L447.0 120.8 L447.2 121.3 L447.5 121.9 L447.8 122.4 L448.0 122.9 L448.2 123.4 L448.5 123.9 L448.8 124.4 L449.0 124.8 L449.2 125.3 L449.5 125.7 L449.8 126.1 L450.0 126.5 L450.2 126.9 L450.5 127.2 L450.8 127.6 L451.0 127.9 L451.2 128.3 L451.5 128.6 L451.8 128.9 L452.0 129.2 L452.2 129.5 L452.5 129.8 L452.8 130.1 L453.0 130.4 L453.2 130.7 L453.5 131.0 L453.8 131.3 L454.0 131.5 L454.2 131.8 L454.5 132.1 L454.8 132.3 L455.0 132.6 L455.2 132.8 L455.5 133.1 L455.8 133.4 L456.0 133.6 L456.2 133.9 L456.5 134.1 L456.8 134.4 L457.0 134.6 L457.2 134.8 L457.5 135.1 L457.8 135.3 L458.0 135.5 L458.2 135.8 L458.5 136.0 L458.8 136.2 L459.0 136.4 L459.2 136.7 L459.5 136.9 L459.8 137.1 L460.0 137.3 L460.2 137.5 L460.5 137.7 L460.8 137.9 L461.0 138.1 L461.2 138.3 L461.5 138.5 L461.8 138.6 L462.0 138.8 L462.2 139.0 L462.5 139.2 L462.8 139.4 L463.0 139.6 L463.2 139.7 L463.5 139.9 L463.8 140.1 L464.0 140.3 L464.2 140.4 L464.5 140.6 L464.8 140.8 L465.0 140.9 L465.2 141.1 L465.5 141.3 L465.8 141.4 L466.0 141.6 L466.2 141.8 L466.5 141.9 L466.8 142.1 L467.0 142.3 L467.2 142.4 L467.5 142.6 L467.8 142.7 L468.0 142.9 L468.2 143.0 L468.5 143.2 L468.8 143.3 L469.0 143.5 L469.2 143.6 L469.5 143.8 L469.8 143.9 L470.0 144.1 L470.2 144.2 L470.5 144.4 L470.8 144.5 L471.0 144.6 L471.2 144.8 L471.5 144.9 L471.8 145.1 L472.0 145.2 L472.2 145.4 L472.5 145.5 L472.8 145.6 L473.0 145.8 L473.2 145.9 L473.5 146.0 L473.8 146.2 L474.0 146.3 L474.2 146.4 L474.5 146.6 L474.8 146.7 L475.0 146.8 L475.2 147.0 L475.5 147.1 L475.8 147.2 L476.0 147.3 L476.2 147.5 L476.5 147.6 L476.8 147.7 L477.0 147.8 L477.2 148.0 L477.5 148.1 L477.8 148.2 L478.0 148.3 L478.2 148.4 L478.5 148.6 L478.8 148.7 L479.0 148.8 L479.2 148.9 L479.5 149.0 L479.8 149.2 L480.0 149.3 L480.2 149.4 L480.5 149.5 L480.8 149.6 L481.0 149.7 L481.2 149.8 L481.5 150.0 L481.8 150.1 L482.0 150.2 L482.2 150.3 L482.5 150.4 L482.8 150.5 L483.0 150.6 L483.2 150.7 L483.5 150.9 L483.8 151.0 L484.0 151.1 L484.2 151.2 L484.5 151.3 L484.8 151.4 L485.0 151.5 L485.2 151.6 L485.5 151.7 L485.8 151.8 L486.0 151.9 L486.2 152.0 L486.5 152.2 L486.8 152.3 L487.0 152.4 L487.2 152.5 L487.5 152.6 L487.8 152.7 L488.0 152.8 L488.2 152.9 L488.5 153.0 L488.8 153.1 L489.0 153.2 L489.2 153.3 L489.5 153.4 L489.8 153.5 L490.0 153.6 L490.2 153.7 L490.5 153.8 L490.8 153.9 L491.0 154.0 L491.2 154.1 L491.5 154.1 L491.8 154.2 L492.0 154.3 L492.2 154.4 L492.5 154.5 L492.8 154.6 L493.0 154.7 L493.2 154.8 L493.5 154.9 L493.8 155.0 L494.0 155.0 L494.2 155.1 L494.5 155.2 L494.8 155.3 L495.0 155.4 L495.2 155.5 L495.5 155.5 L495.8 155.6 L496.0 155.7 L496.2 155.8 L496.5 155.9 L496.8 156.0 L497.0 156.0 L497.2 156.1 L497.5 156.2 L497.8 156.3 L498.0 156.4 L498.2 156.4 L498.5 156.5 L498.8 156.6 L499.0 156.7 L499.2 156.8 L499.5 156.8 L499.8 156.9 L500.0 157.0 L500.2 157.1 L500.5 157.1 L500.8 157.2 L501.0 157.3 L501.2 157.3 L501.5 157.4 L501.8 157.5 L502.0 157.6 L502.2 157.6 L502.5 157.7 L502.8 157.8 L503.0 157.8 L503.2 157.9 L503.5 158.0 L503.8 158.0 L504.0 158.1 L504.2 158.1 L504.5 158.2 L504.8 158.3 L505.0 158.3 L505.2 158.4 L505.5 158.4 L505.8 158.5 L506.0 158.6 L506.2 158.6 L506.5 158.7 L506.8 158.7 L507.0 158.8 L507.2 158.8 L507.5 158.9 L507.8 159.0 L508.0 159.0 L508.2 159.1 L508.5 159.1 L508.8 159.2 L509.0 159.2 L509.2 159.3 L509.5 159.3 L509.8 159.4 L510.0 159.4 L510.2 159.5 L510.5 159.5 L510.8 159.6 L511.0 159.6 L511.2 159.7 L511.5 159.7 L511.8 159.8 L512.0 159.8 L512.2 159.9 L512.5 159.9 L512.8 160.0 L513.0 160.0 L513.2 160.1 L513.5 160.1 L513.8 160.2 L514.0 160.2 L514.2 160.2 L514.5 160.3 L514.8 160.3 L515.0 160.4 L515.2 160.4 L515.5 160.4 L515.8 160.5 L516.0 160.5 L516.2 160.5 L516.5 160.6 L516.8 160.6 L517.0 160.6 L517.2 160.7 L517.5 160.7 L517.8 160.7 L518.0 160.8 L518.2 160.8 L518.5 160.8 L518.8 160.9 L519.0 160.9 L519.2 160.9 L519.5 161.0 L519.8 161.0 L520.0 161.0 L520.2 161.0 L520.5 161.1 L520.8 161.1 L521.0 161.1 L521.2 161.2 L521.5 161.2 L521.8 161.2 L522.0 161.2 L522.2 161.3 L522.5 161.3 L522.8 161.3 L523.0 161.3 L523.2 161.4 L523.5 161.4 L523.8 161.4 L524.0 161.4 L524.2 161.5 L524.5 161.5 L524.8 161.5 L525.0 161.5 L525.2 161.5 L525.5 161.6 L525.8 161.6 L526.0 161.6 L526.2 161.6 L526.5 161.6 L526.8 161.7 L527.0 161.7 L527.2 161.7 L527.5 161.7 L527.8 161.7 L528.0 161.7 L528.2 161.8 L528.5 161.8 L528.8 161.8 L529.0 161.8 L529.2 161.8 L529.5 161.9 L529.8 161.9 L530.0 161.9 L530.2 161.9 L530.5 161.9 L530.8 161.9 L531.0 162.0 L531.2 162.0 L531.5 162.0 L531.8 162.0 L532.0 162.0 L532.2 162.0 L532.5 162.1 L532.8 162.1 L533.0 162.1 L533.2 162.1 L533.5 162.1 L533.8 162.1 L534.0 162.1 L534.2 162.2 L534.5 162.2 L534.8 162.2 L535.0 162.2 L535.2 162.2 L535.5 162.2 L535.8 162.2 L536.0 162.3 L536.2 162.3 L536.5 162.3 L536.8 162.3 L537.0 162.3 L537.2 162.3 L537.5 162.3 L537.8 162.3 L538.0 162.3 L538.2 162.4 L538.5 162.4 L538.8 162.4 L539.0 162.4 L539.2 162.4 L539.5 162.4 L539.8 162.4 L540.0 162.4 L540.2 162.4 L540.5 162.4 L540.8 162.4 L541.0 162.5 L541.2 162.5 L541.5 162.5 L541.8 162.5 L542.0 162.5 L542.2 162.5 L542.5 162.5 L542.8 162.5 L543.0 162.5" fill="none" stroke="#f5507a" stroke-width="2.2"/>
<line x1="369" y1="80.5" x2="369" y2="103" stroke="#4be2b2" stroke-width="1.2"/>
<line x1="390.6" y1="103" x2="390.6" y2="137" stroke="#f9a070" stroke-width="1.2"/>
<line x1="421.9" y1="43.5" x2="421.9" y2="77.5" stroke="#7191e5" stroke-width="1.2"/>
<line x1="453.5" y1="115" x2="453.5" y2="138" stroke="#ffd662" stroke-width="1.2"/>
</g>
<text x="346.5" y="78.5" font-size="9.3" font-weight="bold" text-anchor="start" fill="#000" >Pyridinic N</text>
<text x="371.2" y="100.8" font-size="9.3" font-weight="bold" text-anchor="start" fill="#000" >Pyrrole N</text>
<text x="397.8" y="42" font-size="9.3" font-weight="bold" text-anchor="start" fill="#000" >Graphitic N</text>
<text x="438.2" y="114" font-size="9.3" font-weight="bold" text-anchor="start" fill="#000" >Oxidized N</text>
<rect x="319.5" y="12" width="223.39999999999998" height="180.3" fill="none" stroke="#000" stroke-width="2"/>
<line x1="319.5" y1="192.3" x2="319.5" y2="196.3" stroke="#000" stroke-width="1.5"/>
<text x="319.5" y="208" font-size="11.8" font-weight="bold" text-anchor="middle" fill="#000" >396</text>
<line x1="339.7" y1="192.3" x2="339.7" y2="194.8" stroke="#000" stroke-width="1.5"/>
<line x1="359.9" y1="192.3" x2="359.9" y2="196.3" stroke="#000" stroke-width="1.5"/>
<text x="359.9" y="208" font-size="11.8" font-weight="bold" text-anchor="middle" fill="#000" >398</text>
<line x1="380.1" y1="192.3" x2="380.1" y2="194.8" stroke="#000" stroke-width="1.5"/>
<line x1="400.3" y1="192.3" x2="400.3" y2="196.3" stroke="#000" stroke-width="1.5"/>
<text x="400.3" y="208" font-size="11.8" font-weight="bold" text-anchor="middle" fill="#000" >400</text>
<line x1="420.5" y1="192.3" x2="420.5" y2="194.8" stroke="#000" stroke-width="1.5"/>
<line x1="440.7" y1="192.3" x2="440.7" y2="196.3" stroke="#000" stroke-width="1.5"/>
<text x="440.7" y="208" font-size="11.8" font-weight="bold" text-anchor="middle" fill="#000" >402</text>
<line x1="460.9" y1="192.3" x2="460.9" y2="194.8" stroke="#000" stroke-width="1.5"/>
<line x1="481.1" y1="192.3" x2="481.1" y2="196.3" stroke="#000" stroke-width="1.5"/>
<text x="481.1" y="208" font-size="11.8" font-weight="bold" text-anchor="middle" fill="#000" >404</text>
<line x1="501.3" y1="192.3" x2="501.3" y2="194.8" stroke="#000" stroke-width="1.5"/>
<line x1="521.5" y1="192.3" x2="521.5" y2="196.3" stroke="#000" stroke-width="1.5"/>
<text x="521.5" y="208" font-size="11.8" font-weight="bold" text-anchor="middle" fill="#000" >406</text>
<line x1="541.7" y1="192.3" x2="541.7" y2="194.8" stroke="#000" stroke-width="1.5"/>
<text x="352" y="222.3" font-size="15.15" font-weight="bold" text-anchor="start" fill="#000" >Binding Energy / eV</text>
<text transform="translate(312.2 112.8) rotate(-90)" x="0" y="0" font-size="15.3" font-weight="bold" text-anchor="middle">Intensity (a.u.)</text>
<text x="5" y="251.5" font-size="28" font-weight="bold" text-anchor="start" fill="#000" >c</text>
<clipPath id="clipc"><rect x="44" y="241" width="221.8" height="179.5"/></clipPath>
<g clip-path="url(#clipc)">
<path d="M43.0 410.0 L43.5 410.0 L44.0 410.0 L44.5 409.9 L45.0 409.9 L45.5 409.9 L46.0 409.8 L46.5 409.8 L47.0 409.8 L47.5 409.7 L48.0 409.7 L48.5 409.6 L49.0 409.6 L49.5 409.5 L50.0 409.5 L50.5 409.4 L51.0 409.4 L51.5 409.3 L52.0 409.3 L52.5 409.2 L53.0 409.1 L53.5 409.0 L54.0 408.9 L54.5 408.8 L55.0 408.7 L55.5 408.5 L56.0 408.2 L56.5 407.9 L57.0 407.5 L57.5 406.9 L58.0 406.3 L58.5 405.5 L59.0 404.6 L59.5 403.6 L60.0 402.5 L60.5 401.2 L61.0 399.8 L61.5 398.4 L62.0 396.9 L62.5 395.5 L63.0 393.9 L63.5 392.4 L64.0 390.9 L64.5 389.4 L65.0 388.0 L65.5 386.6 L66.0 385.3 L66.5 384.1 L67.0 383.1 L67.5 382.2 L68.0 381.4 L68.5 380.7 L69.0 380.0 L69.5 379.5 L70.0 379.0 L70.5 378.5 L71.0 378.1 L71.5 377.7 L72.0 377.4 L72.5 377.0 L73.0 376.6 L73.5 376.2 L74.0 375.8 L74.5 375.3 L75.0 374.7 L75.5 374.1 L76.0 373.5 L76.5 372.8 L77.0 372.0 L77.5 371.2 L78.0 370.4 L78.5 369.5 L79.0 368.6 L79.5 367.7 L80.0 366.7 L80.5 365.7 L81.0 364.6 L81.5 363.5 L82.0 362.4 L82.5 361.2 L83.0 360.1 L83.5 358.9 L84.0 357.7 L84.5 356.5 L85.0 355.3 L85.5 354.0 L86.0 352.8 L86.5 351.5 L87.0 350.2 L87.5 348.9 L88.0 347.6 L88.5 346.2 L89.0 344.9 L89.5 343.5 L90.0 342.1 L90.5 340.6 L91.0 339.2 L91.5 337.7 L92.0 336.2 L92.5 334.7 L93.0 333.1 L93.5 331.6 L94.0 330.1 L94.5 328.6 L95.0 327.1 L95.5 325.7 L96.0 324.5 L96.5 323.4 L97.0 322.4 L97.5 321.6 L98.0 321.0 L98.5 320.5 L99.0 320.2 L99.5 320.0 L100.0 319.9 L100.5 319.8 L101.0 319.8 L101.5 319.7 L102.0 319.7 L102.5 319.7 L103.0 319.6 L103.5 319.6 L104.0 319.6 L104.5 319.5 L105.0 319.5 L105.5 319.4 L106.0 319.4 L106.5 319.3 L107.0 319.3 L107.5 319.2 L108.0 319.1 L108.5 319.1 L109.0 319.0 L109.5 318.9 L110.0 318.8 L110.5 318.7 L111.0 318.5 L111.5 318.3 L112.0 318.1 L112.5 317.8 L113.0 317.5 L113.5 317.1 L114.0 316.7 L114.5 316.3 L115.0 315.9 L115.5 315.5 L116.0 315.1 L116.5 314.8 L117.0 314.5 L117.5 314.4 L118.0 314.3 L118.5 314.2 L119.0 314.2 L119.5 314.3 L120.0 314.4 L120.5 314.6 L121.0 314.7 L121.5 314.9 L122.0 315.1 L122.5 315.3 L123.0 315.5 L123.5 315.7 L124.0 315.9 L124.5 316.1 L125.0 316.3 L125.5 316.4 L126.0 316.6 L126.5 316.7 L127.0 316.8 L127.5 316.9 L128.0 317.1 L128.5 317.2 L129.0 317.3 L129.5 317.4 L130.0 317.5 L130.5 317.6 L131.0 317.7 L131.5 317.8 L132.0 318.0 L132.5 318.1 L133.0 318.2 L133.5 318.3 L134.0 318.5 L134.5 318.6 L135.0 318.7 L135.5 318.8 L136.0 319.0 L136.5 319.1 L137.0 319.2 L137.5 319.3 L138.0 319.4 L138.5 319.5 L139.0 319.6 L139.5 319.7 L140.0 319.8 L140.5 319.9 L141.0 320.0 L141.5 320.0 L142.0 320.1 L142.5 320.2 L143.0 320.2 L143.5 320.2 L144.0 320.2 L144.5 320.2 L145.0 320.2 L145.5 320.1 L146.0 320.1 L146.5 319.9 L147.0 319.8 L147.5 319.6 L148.0 319.4 L148.5 319.2 L149.0 318.9 L149.5 318.6 L150.0 318.3 L150.5 318.0 L151.0 317.7 L151.5 317.3 L152.0 316.9 L152.5 316.6 L153.0 316.2 L153.5 315.8 L154.0 315.4 L154.5 315.0 L155.0 314.6 L155.5 314.2 L156.0 313.8 L156.5 313.4 L157.0 313.1 L157.5 312.7 L158.0 312.4 L158.5 312.0 L159.0 311.7 L159.5 311.4 L160.0 311.1 L160.5 310.8 L161.0 310.6 L161.5 310.3 L162.0 310.1 L162.5 309.8 L163.0 309.6 L163.5 309.4 L164.0 309.1 L164.5 308.9 L165.0 308.6 L165.5 308.4 L166.0 308.2 L166.5 307.9 L167.0 307.7 L167.5 307.5 L168.0 307.3 L168.5 307.1 L169.0 307.0 L169.5 306.8 L170.0 306.7 L170.5 306.6 L171.0 306.5 L171.5 306.4 L172.0 306.3 L172.5 306.3 L173.0 306.3 L173.5 306.3 L174.0 306.4 L174.5 306.4 L175.0 306.5 L175.5 306.6 L176.0 306.8 L176.5 306.9 L177.0 307.1 L177.5 307.2 L178.0 307.4 L178.5 307.6 L179.0 307.8 L179.5 308.1 L180.0 308.3 L180.5 308.5 L181.0 308.7 L181.5 309.0 L182.0 309.2 L182.5 309.4 L183.0 309.7 L183.5 309.9 L184.0 310.2 L184.5 310.5 L185.0 310.8 L185.5 311.1 L186.0 311.4 L186.5 311.8 L187.0 312.1 L187.5 312.5 L188.0 312.8 L188.5 313.2 L189.0 313.5 L189.5 313.9 L190.0 314.2 L190.5 314.5 L191.0 314.9 L191.5 315.2 L192.0 315.5 L192.5 315.7 L193.0 316.0 L193.5 316.2 L194.0 316.4 L194.5 316.6 L195.0 316.8 L195.5 317.0 L196.0 317.2 L196.5 317.4 L197.0 317.6 L197.5 317.8 L198.0 318.0 L198.5 318.2 L199.0 318.3 L199.5 318.5 L200.0 318.6 L200.5 318.8 L201.0 318.9 L201.5 319.1 L202.0 319.2 L202.5 319.3 L203.0 319.4 L203.5 319.6 L204.0 319.7 L204.5 319.7 L205.0 319.8 L205.5 319.9 L206.0 320.0 L206.5 320.0 L207.0 320.1 L207.5 320.2 L208.0 320.2 L208.5 320.3 L209.0 320.3 L209.5 320.4 L210.0 320.4 L210.5 320.5 L211.0 320.5 L211.5 320.6 L212.0 320.6 L212.5 320.7 L213.0 320.7 L213.5 320.7 L214.0 320.8 L214.5 320.8 L215.0 320.8 L215.5 320.9 L216.0 320.9 L216.5 320.9 L217.0 320.9 L217.5 321.0 L218.0 321.0 L218.5 321.0 L219.0 321.0 L219.5 321.0 L220.0 321.0 L220.5 321.0 L221.0 321.0 L221.5 320.9 L222.0 320.9 L222.5 320.9 L223.0 320.8 L223.5 320.8 L224.0 320.7 L224.5 320.7 L225.0 320.6 L225.5 320.6 L226.0 320.5 L226.5 320.4 L227.0 320.4 L227.5 320.3 L228.0 320.2 L228.5 320.1 L229.0 320.0 L229.5 319.9 L230.0 319.8 L230.5 319.7 L231.0 319.7 L231.5 319.6 L232.0 319.5 L232.5 319.4 L233.0 319.3 L233.5 319.2 L234.0 319.1 L234.5 319.0 L235.0 318.9 L235.5 318.8 L236.0 318.7 L236.5 318.6 L237.0 318.5 L237.5 318.4 L238.0 318.3 L238.5 318.2 L239.0 318.1 L239.5 318.0 L240.0 317.9 L240.5 317.8 L241.0 317.7 L241.5 317.6 L242.0 317.5 L242.5 317.4 L243.0 317.3 L243.5 317.1 L244.0 317.0 L244.5 316.9 L245.0 316.8 L245.5 316.7 L246.0 316.5 L246.5 316.4 L247.0 316.3 L247.5 316.2 L248.0 316.0 L248.5 315.9 L249.0 315.8 L249.5 315.6 L250.0 315.5 L250.5 315.4 L251.0 315.2 L251.5 315.1 L252.0 314.9 L252.5 314.8 L253.0 314.7 L253.5 314.5 L254.0 314.4 L254.5 314.2 L255.0 314.1 L255.5 313.9 L256.0 313.7 L256.5 313.6 L257.0 313.4 L257.5 313.3 L258.0 313.1 L258.5 312.9 L259.0 312.8 L259.5 312.6 L260.0 312.4 L260.5 312.3 L261.0 312.1 L261.5 311.9 L262.0 311.7 L262.5 311.6 L263.0 311.4 L263.5 311.2 L264.0 311.0 L264.5 310.8 L265.0 310.6 L265.5 310.5 L266.0 310.3 L266.5 310.1 L267.0 309.9 L267.5 309.8 L268.0 309.7" fill="none" stroke="#baa2e8" stroke-width="2.3" stroke-linejoin="round"/>
<path d="M43.0 410.5 L43.5 410.5 L44.0 410.5 L44.5 410.5 L45.0 410.4 L45.5 410.4 L46.0 410.4 L46.5 410.4 L47.0 410.3 L47.5 410.3 L48.0 410.3 L48.5 410.2 L49.0 410.2 L49.5 410.1 L50.0 410.1 L50.5 410.0 L51.0 410.0 L51.5 409.9 L52.0 409.9 L52.5 409.8 L53.0 409.7 L53.5 409.7 L54.0 409.6 L54.5 409.6 L55.0 409.5 L55.5 409.4 L56.0 409.4 L56.5 409.3 L57.0 409.2 L57.5 409.1 L58.0 409.1 L58.5 409.0 L59.0 408.9 L59.5 408.7 L60.0 408.6 L60.5 408.4 L61.0 408.3 L61.5 408.0 L62.0 407.7 L62.5 407.4 L63.0 406.9 L63.5 406.3 L64.0 405.6 L64.5 404.8 L65.0 403.8 L65.5 402.6 L66.0 401.1 L66.5 399.5 L67.0 397.5 L67.5 395.4 L68.0 393.1 L68.5 390.7 L69.0 388.2 L69.5 385.7 L70.0 383.2 L70.5 380.8 L71.0 378.5 L71.5 376.5 L72.0 374.7 L72.5 373.2 L73.0 372.0 L73.5 371.0 L74.0 370.2 L74.5 369.7 L75.0 369.3 L75.5 369.2 L76.0 369.1 L76.5 369.2 L77.0 369.2 L77.5 369.3 L78.0 369.2 L78.5 369.1 L79.0 368.7 L79.5 368.2 L80.0 367.4 L80.5 366.5 L81.0 365.4 L81.5 364.1 L82.0 362.8 L82.5 361.4 L83.0 360.0 L83.5 358.6 L84.0 357.2 L84.5 355.9 L85.0 354.7 L85.5 353.4 L86.0 352.2 L86.5 350.9 L87.0 349.6 L87.5 348.3 L88.0 346.9 L88.5 345.4 L89.0 343.8 L89.5 342.1 L90.0 340.3 L90.5 338.3 L91.0 336.2 L91.5 334.0 L92.0 331.7 L92.5 329.4 L93.0 327.1 L93.5 324.9 L94.0 322.7 L94.5 320.5 L95.0 318.4 L95.5 316.4 L96.0 314.5 L96.5 312.7 L97.0 311.1 L97.5 309.6 L98.0 308.2 L98.5 306.9 L99.0 305.8 L99.5 304.7 L100.0 303.8 L100.5 302.9 L101.0 302.1 L101.5 301.4 L102.0 300.8 L102.5 300.2 L103.0 299.7 L103.5 299.3 L104.0 298.9 L104.5 298.5 L105.0 298.2 L105.5 297.9 L106.0 297.6 L106.5 297.3 L107.0 297.0 L107.5 296.8 L108.0 296.5 L108.5 296.3 L109.0 296.0 L109.5 295.8 L110.0 295.5 L110.5 295.3 L111.0 295.0 L111.5 294.8 L112.0 294.5 L112.5 294.3 L113.0 294.1 L113.5 293.9 L114.0 293.7 L114.5 293.5 L115.0 293.4 L115.5 293.2 L116.0 293.1 L116.5 293.0 L117.0 293.0 L117.5 292.9 L118.0 293.0 L118.5 293.0 L119.0 293.1 L119.5 293.3 L120.0 293.5 L120.5 293.7 L121.0 294.0 L121.5 294.4 L122.0 294.8 L122.5 295.3 L123.0 295.8 L123.5 296.5 L124.0 297.2 L124.5 298.0 L125.0 298.8 L125.5 299.6 L126.0 300.5 L126.5 301.3 L127.0 302.2 L127.5 303.0 L128.0 303.9 L128.5 304.8 L129.0 305.6 L129.5 306.5 L130.0 307.3 L130.5 308.0 L131.0 308.7 L131.5 309.4 L132.0 310.0 L132.5 310.5 L133.0 311.0 L133.5 311.5 L134.0 311.9 L134.5 312.3 L135.0 312.7 L135.5 313.1 L136.0 313.4 L136.5 313.7 L137.0 314.0 L137.5 314.3 L138.0 314.6 L138.5 314.8 L139.0 315.0 L139.5 315.3 L140.0 315.5 L140.5 315.7 L141.0 315.9 L141.5 316.1 L142.0 316.2 L142.5 316.4 L143.0 316.6 L143.5 316.7 L144.0 316.9 L144.5 317.0 L145.0 317.2 L145.5 317.4 L146.0 317.5 L146.5 317.7 L147.0 317.8 L147.5 317.9 L148.0 318.1 L148.5 318.2 L149.0 318.4 L149.5 318.5 L150.0 318.6 L150.5 318.8 L151.0 318.9 L151.5 319.0 L152.0 319.2 L152.5 319.3 L153.0 319.4 L153.5 319.6 L154.0 319.7 L154.5 319.9 L155.0 320.0 L155.5 320.2 L156.0 320.3 L156.5 320.5 L157.0 320.7 L157.5 320.9 L158.0 321.1 L158.5 321.3 L159.0 321.5 L159.5 321.7 L160.0 321.9 L160.5 322.1 L161.0 322.4 L161.5 322.6 L162.0 322.8 L162.5 323.0 L163.0 323.2 L163.5 323.4 L164.0 323.6 L164.5 323.8 L165.0 324.0 L165.5 324.1 L166.0 324.3 L166.5 324.4 L167.0 324.6 L167.5 324.7 L168.0 324.8 L168.5 324.9 L169.0 325.0 L169.5 325.1 L170.0 325.1 L170.5 325.1 L171.0 325.1 L171.5 325.1 L172.0 325.1 L172.5 325.0 L173.0 324.9 L173.5 324.8 L174.0 324.7 L174.5 324.5 L175.0 324.4 L175.5 324.2 L176.0 324.0 L176.5 323.8 L177.0 323.6 L177.5 323.4 L178.0 323.2 L178.5 323.0 L179.0 322.7 L179.5 322.5 L180.0 322.2 L180.5 322.0 L181.0 321.8 L181.5 321.5 L182.0 321.3 L182.5 321.1 L183.0 320.8 L183.5 320.6 L184.0 320.4 L184.5 320.2 L185.0 320.0 L185.5 319.8 L186.0 319.6 L186.5 319.4 L187.0 319.3 L187.5 319.1 L188.0 318.9 L188.5 318.7 L189.0 318.5 L189.5 318.3 L190.0 318.1 L190.5 317.9 L191.0 317.7 L191.5 317.5 L192.0 317.3 L192.5 317.1 L193.0 317.0 L193.5 316.8 L194.0 316.6 L194.5 316.4 L195.0 316.2 L195.5 316.1 L196.0 315.9 L196.5 315.7 L197.0 315.6 L197.5 315.4 L198.0 315.3 L198.5 315.1 L199.0 315.0 L199.5 314.8 L200.0 314.7 L200.5 314.6 L201.0 314.5 L201.5 314.3 L202.0 314.2 L202.5 314.1 L203.0 314.0 L203.5 313.9 L204.0 313.7 L204.5 313.6 L205.0 313.5 L205.5 313.4 L206.0 313.3 L206.5 313.2 L207.0 313.1 L207.5 313.0 L208.0 312.8 L208.5 312.7 L209.0 312.6 L209.5 312.5 L210.0 312.4 L210.5 312.3 L211.0 312.2 L211.5 312.2 L212.0 312.1 L212.5 312.0 L213.0 311.9 L213.5 311.8 L214.0 311.7 L214.5 311.7 L215.0 311.6 L215.5 311.5 L216.0 311.4 L216.5 311.4 L217.0 311.3 L217.5 311.3 L218.0 311.2 L218.5 311.1 L219.0 311.1 L219.5 311.1 L220.0 311.0 L220.5 311.0 L221.0 310.9 L221.5 310.9 L222.0 310.9 L222.5 310.8 L223.0 310.8 L223.5 310.8 L224.0 310.7 L224.5 310.7 L225.0 310.7 L225.5 310.6 L226.0 310.6 L226.5 310.6 L227.0 310.6 L227.5 310.5 L228.0 310.5 L228.5 310.5 L229.0 310.5 L229.5 310.4 L230.0 310.4 L230.5 310.4 L231.0 310.4 L231.5 310.3 L232.0 310.3 L232.5 310.3 L233.0 310.3 L233.5 310.3 L234.0 310.2 L234.5 310.2 L235.0 310.2 L235.5 310.2 L236.0 310.2 L236.5 310.1 L237.0 310.1 L237.5 310.1 L238.0 310.1 L238.5 310.1 L239.0 310.0 L239.5 310.0 L240.0 310.0 L240.5 310.0 L241.0 310.0 L241.5 309.9 L242.0 309.9 L242.5 309.9 L243.0 309.9 L243.5 309.9 L244.0 309.8 L244.5 309.8 L245.0 309.8 L245.5 309.8 L246.0 309.8 L246.5 309.7 L247.0 309.7 L247.5 309.7 L248.0 309.7 L248.5 309.7 L249.0 309.6 L249.5 309.6 L250.0 309.6 L250.5 309.6 L251.0 309.6 L251.5 309.5 L252.0 309.5 L252.5 309.5 L253.0 309.5 L253.5 309.5 L254.0 309.4 L254.5 309.4 L255.0 309.4 L255.5 309.4 L256.0 309.4 L256.5 309.4 L257.0 309.3 L257.5 309.3 L258.0 309.3 L258.5 309.3 L259.0 309.3 L259.5 309.3 L260.0 309.2 L260.5 309.2 L261.0 309.2 L261.5 309.2 L262.0 309.2 L262.5 309.2 L263.0 309.1 L263.5 309.1 L264.0 309.1 L264.5 309.1 L265.0 309.1 L265.5 309.1 L266.0 309.1 L266.5 309.0 L267.0 309.0 L267.5 309.0 L268.0 309.0" fill="none" stroke="#4be2b2" stroke-width="2.3" stroke-linejoin="round"/>
<path d="M43.0 410.4 L43.5 410.4 L44.0 410.3 L44.5 410.3 L45.0 410.2 L45.5 410.2 L46.0 410.1 L46.5 410.0 L47.0 409.9 L47.5 409.9 L48.0 409.8 L48.5 409.7 L49.0 409.7 L49.5 409.6 L50.0 409.5 L50.5 409.4 L51.0 409.4 L51.5 409.3 L52.0 409.2 L52.5 409.2 L53.0 409.1 L53.5 409.0 L54.0 408.9 L54.5 408.8 L55.0 408.7 L55.5 408.5 L56.0 408.2 L56.5 407.9 L57.0 407.5 L57.5 407.0 L58.0 406.3 L58.5 405.5 L59.0 404.5 L59.5 403.4 L60.0 402.0 L60.5 400.6 L61.0 399.0 L61.5 397.4 L62.0 395.7 L62.5 394.1 L63.0 392.4 L63.5 390.8 L64.0 389.2 L64.5 387.7 L65.0 386.2 L65.5 384.8 L66.0 383.6 L66.5 382.4 L67.0 381.4 L67.5 380.6 L68.0 379.8 L68.5 379.1 L69.0 378.5 L69.5 377.9 L70.0 377.4 L70.5 377.0 L71.0 376.5 L71.5 376.1 L72.0 375.8 L72.5 375.4 L73.0 375.0 L73.5 374.6 L74.0 374.1 L74.5 373.6 L75.0 373.0 L75.5 372.4 L76.0 371.8 L76.5 371.1 L77.0 370.3 L77.5 369.5 L78.0 368.7 L78.5 367.8 L79.0 366.9 L79.5 366.0 L80.0 365.0 L80.5 364.0 L81.0 362.9 L81.5 361.8 L82.0 360.7 L82.5 359.6 L83.0 358.4 L83.5 357.2 L84.0 356.0 L84.5 354.8 L85.0 353.5 L85.5 352.3 L86.0 351.0 L86.5 349.7 L87.0 348.4 L87.5 347.0 L88.0 345.7 L88.5 344.3 L89.0 342.9 L89.5 341.5 L90.0 340.1 L90.5 338.7 L91.0 337.2 L91.5 335.7 L92.0 334.2 L92.5 332.7 L93.0 331.1 L93.5 329.4 L94.0 327.8 L94.5 326.1 L95.0 324.5 L95.5 323.0 L96.0 321.6 L96.5 320.5 L97.0 319.4 L97.5 318.6 L98.0 318.0 L98.5 317.5 L99.0 317.1 L99.5 316.9 L100.0 316.7 L100.5 316.6 L101.0 316.5 L101.5 316.5 L102.0 316.4 L102.5 316.4 L103.0 316.3 L103.5 316.3 L104.0 316.2 L104.5 316.2 L105.0 316.1 L105.5 316.0 L106.0 316.0 L106.5 315.9 L107.0 315.8 L107.5 315.7 L108.0 315.6 L108.5 315.5 L109.0 315.4 L109.5 315.3 L110.0 315.2 L110.5 315.0 L111.0 314.9 L111.5 314.7 L112.0 314.5 L112.5 314.3 L113.0 314.0 L113.5 313.7 L114.0 313.4 L114.5 313.1 L115.0 312.9 L115.5 312.6 L116.0 312.3 L116.5 312.1 L117.0 312.0 L117.5 311.9 L118.0 311.8 L118.5 311.8 L119.0 311.9 L119.5 312.0 L120.0 312.1 L120.5 312.3 L121.0 312.5 L121.5 312.8 L122.0 313.0 L122.5 313.3 L123.0 313.5 L123.5 313.8 L124.0 314.1 L124.5 314.3 L125.0 314.5 L125.5 314.7 L126.0 314.9 L126.5 315.0 L127.0 315.2 L127.5 315.3 L128.0 315.5 L128.5 315.6 L129.0 315.7 L129.5 315.9 L130.0 316.0 L130.5 316.2 L131.0 316.3 L131.5 316.5 L132.0 316.6 L132.5 316.8 L133.0 316.9 L133.5 317.1 L134.0 317.3 L134.5 317.4 L135.0 317.6 L135.5 317.8 L136.0 317.9 L136.5 318.1 L137.0 318.3 L137.5 318.4 L138.0 318.6 L138.5 318.7 L139.0 318.9 L139.5 319.0 L140.0 319.1 L140.5 319.2 L141.0 319.3 L141.5 319.4 L142.0 319.5 L142.5 319.6 L143.0 319.7 L143.5 319.7 L144.0 319.7 L144.5 319.7 L145.0 319.7 L145.5 319.6 L146.0 319.6 L146.5 319.4 L147.0 319.3 L147.5 319.1 L148.0 318.9 L148.5 318.7 L149.0 318.4 L149.5 318.1 L150.0 317.8 L150.5 317.5 L151.0 317.2 L151.5 316.8 L152.0 316.4 L152.5 316.1 L153.0 315.7 L153.5 315.3 L154.0 314.9 L154.5 314.5 L155.0 314.1 L155.5 313.7 L156.0 313.3 L156.5 312.9 L157.0 312.6 L157.5 312.2 L158.0 311.9 L158.5 311.5 L159.0 311.2 L159.5 310.9 L160.0 310.6 L160.5 310.3 L161.0 310.1 L161.5 309.8 L162.0 309.6 L162.5 309.3 L163.0 309.1 L163.5 308.9 L164.0 308.6 L164.5 308.4 L165.0 308.1 L165.5 307.9 L166.0 307.7 L166.5 307.4 L167.0 307.2 L167.5 307.0 L168.0 306.8 L168.5 306.6 L169.0 306.5 L169.5 306.3 L170.0 306.2 L170.5 306.1 L171.0 306.0 L171.5 305.9 L172.0 305.8 L172.5 305.8 L173.0 305.8 L173.5 305.8 L174.0 305.9 L174.5 305.9 L175.0 306.0 L175.5 306.1 L176.0 306.3 L176.5 306.4 L177.0 306.6 L177.5 306.7 L178.0 306.9 L178.5 307.1 L179.0 307.4 L179.5 307.6 L180.0 307.8 L180.5 308.0 L181.0 308.2 L181.5 308.5 L182.0 308.7 L182.5 308.9 L183.0 309.2 L183.5 309.4 L184.0 309.7 L184.5 310.0 L185.0 310.3 L185.5 310.6 L186.0 310.9 L186.5 311.2 L187.0 311.6 L187.5 311.9 L188.0 312.3 L188.5 312.6 L189.0 312.9 L189.5 313.3 L190.0 313.6 L190.5 313.9 L191.0 314.2 L191.5 314.5 L192.0 314.7 L192.5 315.0 L193.0 315.2 L193.5 315.4 L194.0 315.6 L194.5 315.8 L195.0 316.0 L195.5 316.1 L196.0 316.3 L196.5 316.4 L197.0 316.6 L197.5 316.7 L198.0 316.9 L198.5 317.0 L199.0 317.2 L199.5 317.3 L200.0 317.4 L200.5 317.5 L201.0 317.7 L201.5 317.8 L202.0 317.9 L202.5 318.0 L203.0 318.1 L203.5 318.1 L204.0 318.2 L204.5 318.3 L205.0 318.3 L205.5 318.4 L206.0 318.4 L206.5 318.5 L207.0 318.5 L207.5 318.5 L208.0 318.5 L208.5 318.6 L209.0 318.6 L209.5 318.6 L210.0 318.6 L210.5 318.6 L211.0 318.7 L211.5 318.7 L212.0 318.7 L212.5 318.7 L213.0 318.7 L213.5 318.7 L214.0 318.7 L214.5 318.7 L215.0 318.8 L215.5 318.8 L216.0 318.8 L216.5 318.8 L217.0 318.8 L217.5 318.8 L218.0 318.8 L218.5 318.8 L219.0 318.8 L219.5 318.8 L220.0 318.8 L220.5 318.8 L221.0 318.7 L221.5 318.7 L222.0 318.7 L222.5 318.6 L223.0 318.6 L223.5 318.5 L224.0 318.5 L224.5 318.4 L225.0 318.3 L225.5 318.2 L226.0 318.1 L226.5 318.0 L227.0 317.9 L227.5 317.8 L228.0 317.7 L228.5 317.6 L229.0 317.5 L229.5 317.4 L230.0 317.2 L230.5 317.1 L231.0 317.0 L231.5 316.9 L232.0 316.7 L232.5 316.6 L233.0 316.5 L233.5 316.4 L234.0 316.2 L234.5 316.1 L235.0 316.0 L235.5 315.9 L236.0 315.8 L236.5 315.7 L237.0 315.6 L237.5 315.5 L238.0 315.4 L238.5 315.3 L239.0 315.2 L239.5 315.1 L240.0 315.0 L240.5 314.9 L241.0 314.7 L241.5 314.6 L242.0 314.5 L242.5 314.4 L243.0 314.3 L243.5 314.2 L244.0 314.1 L244.5 314.0 L245.0 313.9 L245.5 313.8 L246.0 313.7 L246.5 313.6 L247.0 313.5 L247.5 313.4 L248.0 313.3 L248.5 313.2 L249.0 313.1 L249.5 313.0 L250.0 312.9 L250.5 312.7 L251.0 312.6 L251.5 312.5 L252.0 312.4 L252.5 312.3 L253.0 312.2 L253.5 312.1 L254.0 312.0 L254.5 311.9 L255.0 311.8 L255.5 311.7 L256.0 311.6 L256.5 311.5 L257.0 311.4 L257.5 311.3 L258.0 311.2 L258.5 311.0 L259.0 310.9 L259.5 310.8 L260.0 310.7 L260.5 310.6 L261.0 310.5 L261.5 310.4 L262.0 310.3 L262.5 310.2 L263.0 310.1 L263.5 310.0 L264.0 309.9 L264.5 309.8 L265.0 309.6 L265.5 309.5 L266.0 309.4 L266.5 309.3 L267.0 309.3 L267.5 309.2 L268.0 309.1" fill="none" stroke="#7191e5" stroke-width="2.3" stroke-linejoin="round"/>
<path d="M43.0 411.0 L43.5 411.0 L44.0 411.0 L44.5 411.0 L45.0 411.0 L45.5 410.9 L46.0 410.9 L46.5 410.9 L47.0 410.9 L47.5 410.8 L48.0 410.8 L48.5 410.8 L49.0 410.7 L49.5 410.7 L50.0 410.6 L50.5 410.6 L51.0 410.5 L51.5 410.5 L52.0 410.4 L52.5 410.3 L53.0 410.3 L53.5 410.2 L54.0 410.1 L54.5 410.0 L55.0 409.9 L55.5 409.7 L56.0 409.6 L56.5 409.3 L57.0 409.1 L57.5 408.8 L58.0 408.5 L58.5 408.1 L59.0 407.8 L59.5 407.5 L60.0 407.1 L60.5 406.8 L61.0 406.5 L61.5 406.3 L62.0 406.0 L62.5 405.8 L63.0 405.7 L63.5 405.6 L64.0 405.5 L64.5 405.4 L65.0 405.3 L65.5 405.3 L66.0 405.2 L66.5 405.2 L67.0 405.1 L67.5 405.1 L68.0 405.0 L68.5 405.0 L69.0 404.8 L69.5 404.7 L70.0 404.4 L70.5 404.1 L71.0 403.6 L71.5 402.9 L72.0 402.1 L72.5 401.1 L73.0 400.0 L73.5 398.8 L74.0 397.6 L74.5 396.2 L75.0 394.9 L75.5 393.5 L76.0 392.2 L76.5 390.8 L77.0 389.5 L77.5 388.1 L78.0 386.7 L78.5 385.2 L79.0 383.7 L79.5 382.2 L80.0 380.6 L80.5 379.0 L81.0 377.4 L81.5 375.7 L82.0 373.9 L82.5 372.1 L83.0 370.2 L83.5 368.2 L84.0 365.9 L84.5 363.3 L85.0 360.3 L85.5 357.0 L86.0 353.2 L86.5 349.0 L87.0 344.4 L87.5 339.5 L88.0 334.3 L88.5 328.9 L89.0 323.3 L89.5 317.6 L90.0 311.9 L90.5 306.1 L91.0 300.4 L91.5 294.9 L92.0 289.6 L92.5 284.4 L93.0 279.6 L93.5 275.0 L94.0 270.7 L94.5 266.9 L95.0 263.4 L95.5 260.3 L96.0 257.6 L96.5 255.3 L97.0 253.4 L97.5 251.8 L98.0 250.6 L98.5 249.7 L99.0 249.1 L99.5 248.6 L100.0 248.4 L100.5 248.4 L101.0 248.7 L101.5 249.3 L102.0 250.2 L102.5 251.5 L103.0 253.2 L103.5 255.4 L104.0 258.0 L104.5 261.1 L105.0 264.7 L105.5 268.5 L106.0 272.4 L106.5 276.4 L107.0 280.1 L107.5 283.6 L108.0 286.8 L108.5 289.7 L109.0 292.5 L109.5 295.0 L110.0 297.4 L110.5 299.7 L111.0 301.9 L111.5 303.9 L112.0 305.8 L112.5 307.7 L113.0 309.4 L113.5 311.0 L114.0 312.6 L114.5 314.0 L115.0 315.4 L115.5 316.7 L116.0 317.9 L116.5 319.0 L117.0 320.0 L117.5 320.9 L118.0 321.7 L118.5 322.5 L119.0 323.2 L119.5 323.8 L120.0 324.4 L120.5 324.9 L121.0 325.3 L121.5 325.7 L122.0 326.0 L122.5 326.2 L123.0 326.3 L123.5 326.3 L124.0 326.1 L124.5 325.8 L125.0 325.4 L125.5 324.9 L126.0 324.2 L126.5 323.5 L127.0 322.7 L127.5 321.9 L128.0 321.1 L128.5 320.3 L129.0 319.6 L129.5 318.8 L130.0 318.1 L130.5 317.4 L131.0 316.7 L131.5 316.1 L132.0 315.4 L132.5 314.8 L133.0 314.3 L133.5 313.8 L134.0 313.4 L134.5 313.2 L135.0 313.0 L135.5 312.9 L136.0 313.0 L136.5 313.2 L137.0 313.4 L137.5 313.8 L138.0 314.2 L138.5 314.6 L139.0 315.1 L139.5 315.6 L140.0 316.1 L140.5 316.6 L141.0 317.0 L141.5 317.5 L142.0 317.9 L142.5 318.3 L143.0 318.7 L143.5 319.1 L144.0 319.5 L144.5 319.9 L145.0 320.2 L145.5 320.6 L146.0 321.0 L146.5 321.4 L147.0 321.8 L147.5 322.2 L148.0 322.6 L148.5 322.9 L149.0 323.3 L149.5 323.7 L150.0 324.0 L150.5 324.4 L151.0 324.7 L151.5 325.0 L152.0 325.3 L152.5 325.6 L153.0 325.9 L153.5 326.2 L154.0 326.4 L154.5 326.6 L155.0 326.9 L155.5 327.0 L156.0 327.2 L156.5 327.3 L157.0 327.4 L157.5 327.5 L158.0 327.6 L158.5 327.6 L159.0 327.6 L159.5 327.6 L160.0 327.5 L160.5 327.5 L161.0 327.4 L161.5 327.3 L162.0 327.1 L162.5 327.0 L163.0 326.8 L163.5 326.6 L164.0 326.4 L164.5 326.2 L165.0 326.0 L165.5 325.7 L166.0 325.5 L166.5 325.2 L167.0 324.9 L167.5 324.7 L168.0 324.4 L168.5 324.1 L169.0 323.8 L169.5 323.5 L170.0 323.2 L170.5 322.9 L171.0 322.6 L171.5 322.2 L172.0 321.9 L172.5 321.6 L173.0 321.2 L173.5 320.8 L174.0 320.4 L174.5 320.0 L175.0 319.5 L175.5 319.0 L176.0 318.5 L176.5 318.0 L177.0 317.5 L177.5 316.9 L178.0 316.4 L178.5 315.9 L179.0 315.3 L179.5 314.7 L180.0 314.2 L180.5 313.6 L181.0 313.1 L181.5 312.5 L182.0 312.0 L182.5 311.4 L183.0 310.8 L183.5 310.3 L184.0 309.7 L184.5 309.1 L185.0 308.5 L185.5 307.9 L186.0 307.2 L186.5 306.6 L187.0 306.0 L187.5 305.4 L188.0 304.7 L188.5 304.1 L189.0 303.5 L189.5 303.0 L190.0 302.4 L190.5 301.9 L191.0 301.4 L191.5 300.9 L192.0 300.5 L192.5 300.1 L193.0 299.7 L193.5 299.3 L194.0 299.0 L194.5 298.7 L195.0 298.5 L195.5 298.2 L196.0 297.9 L196.5 297.7 L197.0 297.4 L197.5 297.2 L198.0 296.9 L198.5 296.7 L199.0 296.5 L199.5 296.3 L200.0 296.0 L200.5 295.8 L201.0 295.6 L201.5 295.5 L202.0 295.3 L202.5 295.1 L203.0 295.0 L203.5 294.8 L204.0 294.7 L204.5 294.6 L205.0 294.5 L205.5 294.4 L206.0 294.4 L206.5 294.3 L207.0 294.3 L207.5 294.3 L208.0 294.3 L208.5 294.3 L209.0 294.4 L209.5 294.5 L210.0 294.6 L210.5 294.8 L211.0 295.0 L211.5 295.2 L212.0 295.4 L212.5 295.6 L213.0 295.9 L213.5 296.2 L214.0 296.5 L214.5 296.8 L215.0 297.1 L215.5 297.4 L216.0 297.8 L216.5 298.1 L217.0 298.4 L217.5 298.8 L218.0 299.1 L218.5 299.4 L219.0 299.8 L219.5 300.1 L220.0 300.5 L220.5 300.8 L221.0 301.2 L221.5 301.5 L222.0 301.9 L222.5 302.3 L223.0 302.7 L223.5 303.1 L224.0 303.5 L224.5 303.9 L225.0 304.4 L225.5 304.8 L226.0 305.2 L226.5 305.6 L227.0 306.1 L227.5 306.5 L228.0 306.9 L228.5 307.3 L229.0 307.7 L229.5 308.1 L230.0 308.5 L230.5 308.8 L231.0 309.2 L231.5 309.5 L232.0 309.9 L232.5 310.2 L233.0 310.6 L233.5 310.9 L234.0 311.2 L234.5 311.6 L235.0 311.9 L235.5 312.2 L236.0 312.5 L236.5 312.8 L237.0 313.1 L237.5 313.4 L238.0 313.7 L238.5 314.0 L239.0 314.3 L239.5 314.5 L240.0 314.8 L240.5 315.0 L241.0 315.2 L241.5 315.4 L242.0 315.7 L242.5 315.9 L243.0 316.1 L243.5 316.3 L244.0 316.5 L244.5 316.7 L245.0 316.9 L245.5 317.1 L246.0 317.3 L246.5 317.5 L247.0 317.6 L247.5 317.8 L248.0 318.0 L248.5 318.1 L249.0 318.2 L249.5 318.4 L250.0 318.5 L250.5 318.6 L251.0 318.6 L251.5 318.7 L252.0 318.7 L252.5 318.8 L253.0 318.8 L253.5 318.8 L254.0 318.8 L254.5 318.7 L255.0 318.7 L255.5 318.7 L256.0 318.6 L256.5 318.6 L257.0 318.5 L257.5 318.5 L258.0 318.4 L258.5 318.3 L259.0 318.2 L259.5 318.1 L260.0 318.0 L260.5 317.9 L261.0 317.8 L261.5 317.7 L262.0 317.5 L262.5 317.4 L263.0 317.2 L263.5 317.0 L264.0 316.8 L264.5 316.6 L265.0 316.4 L265.5 316.2 L266.0 316.0 L266.5 315.8 L267.0 315.6 L267.5 315.4 L268.0 315.3" fill="none" stroke="#ffd662" stroke-width="2.3" stroke-linejoin="round"/>
<path d="M43.0 411.0 L43.5 410.9 L44.0 410.9 L44.5 410.8 L45.0 410.8 L45.5 410.7 L46.0 410.7 L46.5 410.6 L47.0 410.5 L47.5 410.4 L48.0 410.3 L48.5 410.3 L49.0 410.2 L49.5 410.1 L50.0 410.0 L50.5 409.9 L51.0 409.8 L51.5 409.7 L52.0 409.6 L52.5 409.5 L53.0 409.4 L53.5 409.2 L54.0 409.1 L54.5 409.0 L55.0 408.9 L55.5 408.7 L56.0 408.5 L56.5 408.4 L57.0 408.2 L57.5 408.0 L58.0 407.8 L58.5 407.6 L59.0 407.4 L59.5 407.1 L60.0 406.7 L60.5 406.4 L61.0 405.9 L61.5 405.5 L62.0 405.0 L62.5 404.6 L63.0 404.3 L63.5 404.0 L64.0 403.8 L64.5 403.6 L65.0 403.6 L65.5 403.5 L66.0 403.5 L66.5 403.5 L67.0 403.4 L67.5 403.4 L68.0 403.2 L68.5 403.0 L69.0 402.6 L69.5 402.1 L70.0 401.4 L70.5 400.6 L71.0 399.6 L71.5 398.5 L72.0 397.3 L72.5 396.0 L73.0 394.8 L73.5 393.4 L74.0 392.0 L74.5 390.6 L75.0 389.1 L75.5 387.6 L76.0 386.0 L76.5 384.4 L77.0 382.7 L77.5 381.0 L78.0 379.3 L78.5 377.7 L79.0 376.0 L79.5 374.4 L80.0 372.7 L80.5 371.1 L81.0 369.5 L81.5 367.9 L82.0 366.3 L82.5 364.7 L83.0 363.1 L83.5 361.5 L84.0 359.9 L84.5 358.3 L85.0 356.6 L85.5 355.0 L86.0 353.3 L86.5 351.7 L87.0 350.0 L87.5 348.3 L88.0 346.5 L88.5 344.5 L89.0 342.4 L89.5 340.0 L90.0 337.2 L90.5 334.2 L91.0 331.0 L91.5 327.7 L92.0 324.4 L92.5 321.3 L93.0 318.5 L93.5 315.9 L94.0 313.5 L94.5 311.4 L95.0 309.5 L95.5 307.8 L96.0 306.3 L96.5 304.9 L97.0 303.7 L97.5 302.5 L98.0 301.5 L98.5 300.6 L99.0 299.7 L99.5 299.0 L100.0 298.4 L100.5 297.9 L101.0 297.4 L101.5 297.0 L102.0 296.7 L102.5 296.4 L103.0 296.2 L103.5 296.0 L104.0 295.8 L104.5 295.6 L105.0 295.5 L105.5 295.5 L106.0 295.4 L106.5 295.5 L107.0 295.5 L107.5 295.6 L108.0 295.7 L108.5 295.9 L109.0 296.1 L109.5 296.3 L110.0 296.5 L110.5 296.7 L111.0 297.0 L111.5 297.3 L112.0 297.5 L112.5 297.8 L113.0 298.0 L113.5 298.3 L114.0 298.6 L114.5 298.8 L115.0 299.0 L115.5 299.2 L116.0 299.4 L116.5 299.5 L117.0 299.6 L117.5 299.8 L118.0 299.9 L118.5 300.0 L119.0 300.1 L119.5 300.2 L120.0 300.3 L120.5 300.4 L121.0 300.6 L121.5 300.8 L122.0 301.0 L122.5 301.2 L123.0 301.5 L123.5 301.8 L124.0 302.1 L124.5 302.4 L125.0 302.7 L125.5 303.1 L126.0 303.4 L126.5 303.8 L127.0 304.1 L127.5 304.5 L128.0 304.8 L128.5 305.2 L129.0 305.5 L129.5 305.9 L130.0 306.2 L130.5 306.5 L131.0 306.9 L131.5 307.2 L132.0 307.5 L132.5 307.9 L133.0 308.2 L133.5 308.6 L134.0 308.9 L134.5 309.3 L135.0 309.7 L135.5 310.0 L136.0 310.4 L136.5 310.8 L137.0 311.2 L137.5 311.5 L138.0 311.9 L138.5 312.3 L139.0 312.7 L139.5 313.0 L140.0 313.4 L140.5 313.7 L141.0 314.1 L141.5 314.4 L142.0 314.8 L142.5 315.1 L143.0 315.4 L143.5 315.7 L144.0 316.0 L144.5 316.3 L145.0 316.6 L145.5 316.9 L146.0 317.1 L146.5 317.4 L147.0 317.6 L147.5 317.8 L148.0 318.0 L148.5 318.2 L149.0 318.4 L149.5 318.5 L150.0 318.7 L150.5 318.9 L151.0 319.0 L151.5 319.2 L152.0 319.3 L152.5 319.5 L153.0 319.6 L153.5 319.8 L154.0 319.9 L154.5 320.0 L155.0 320.2 L155.5 320.3 L156.0 320.5 L156.5 320.6 L157.0 320.7 L157.5 320.8 L158.0 321.0 L158.5 321.1 L159.0 321.2 L159.5 321.3 L160.0 321.4 L160.5 321.5 L161.0 321.6 L161.5 321.7 L162.0 321.8 L162.5 321.8 L163.0 321.9 L163.5 322.0 L164.0 322.0 L164.5 322.1 L165.0 322.1 L165.5 322.2 L166.0 322.2 L166.5 322.2 L167.0 322.3 L167.5 322.3 L168.0 322.3 L168.5 322.3 L169.0 322.3 L169.5 322.3 L170.0 322.2 L170.5 322.2 L171.0 322.2 L171.5 322.2 L172.0 322.1 L172.5 322.1 L173.0 322.0 L173.5 322.0 L174.0 322.0 L174.5 321.9 L175.0 321.8 L175.5 321.8 L176.0 321.7 L176.5 321.6 L177.0 321.6 L177.5 321.5 L178.0 321.4 L178.5 321.3 L179.0 321.3 L179.5 321.2 L180.0 321.1 L180.5 321.0 L181.0 320.9 L181.5 320.8 L182.0 320.7 L182.5 320.6 L183.0 320.5 L183.5 320.4 L184.0 320.3 L184.5 320.2 L185.0 320.1 L185.5 320.0 L186.0 319.9 L186.5 319.8 L187.0 319.7 L187.5 319.5 L188.0 319.4 L188.5 319.3 L189.0 319.2 L189.5 319.1 L190.0 319.0 L190.5 318.9 L191.0 318.8 L191.5 318.6 L192.0 318.5 L192.5 318.4 L193.0 318.3 L193.5 318.2 L194.0 318.1 L194.5 318.0 L195.0 317.9 L195.5 317.8 L196.0 317.7 L196.5 317.6 L197.0 317.5 L197.5 317.4 L198.0 317.3 L198.5 317.2 L199.0 317.1 L199.5 317.0 L200.0 316.9 L200.5 316.8 L201.0 316.7 L201.5 316.6 L202.0 316.5 L202.5 316.4 L203.0 316.3 L203.5 316.2 L204.0 316.1 L204.5 316.0 L205.0 315.9 L205.5 315.8 L206.0 315.7 L206.5 315.6 L207.0 315.5 L207.5 315.4 L208.0 315.3 L208.5 315.2 L209.0 315.0 L209.5 314.9 L210.0 314.8 L210.5 314.7 L211.0 314.6 L211.5 314.5 L212.0 314.3 L212.5 314.2 L213.0 314.1 L213.5 314.0 L214.0 313.9 L214.5 313.8 L215.0 313.6 L215.5 313.5 L216.0 313.4 L216.5 313.3 L217.0 313.2 L217.5 313.1 L218.0 312.9 L218.5 312.8 L219.0 312.7 L219.5 312.6 L220.0 312.5 L220.5 312.4 L221.0 312.3 L221.5 312.1 L222.0 312.0 L222.5 311.9 L223.0 311.8 L223.5 311.7 L224.0 311.6 L224.5 311.5 L225.0 311.4 L225.5 311.3 L226.0 311.2 L226.5 311.1 L227.0 311.0 L227.5 310.9 L228.0 310.8 L228.5 310.8 L229.0 310.7 L229.5 310.6 L230.0 310.5 L230.5 310.4 L231.0 310.4 L231.5 310.3 L232.0 310.2 L232.5 310.1 L233.0 310.1 L233.5 310.0 L234.0 310.0 L234.5 309.9 L235.0 309.9 L235.5 309.8 L236.0 309.8 L236.5 309.7 L237.0 309.7 L237.5 309.6 L238.0 309.6 L238.5 309.6 L239.0 309.6 L239.5 309.5 L240.0 309.5 L240.5 309.5 L241.0 309.5 L241.5 309.5 L242.0 309.4 L242.5 309.4 L243.0 309.4 L243.5 309.4 L244.0 309.4 L244.5 309.4 L245.0 309.4 L245.5 309.3 L246.0 309.3 L246.5 309.3 L247.0 309.3 L247.5 309.3 L248.0 309.3 L248.5 309.3 L249.0 309.3 L249.5 309.2 L250.0 309.2 L250.5 309.2 L251.0 309.2 L251.5 309.2 L252.0 309.2 L252.5 309.2 L253.0 309.2 L253.5 309.2 L254.0 309.1 L254.5 309.1 L255.0 309.1 L255.5 309.1 L256.0 309.1 L256.5 309.1 L257.0 309.1 L257.5 309.1 L258.0 309.1 L258.5 309.1 L259.0 309.1 L259.5 309.1 L260.0 309.0 L260.5 309.0 L261.0 309.0 L261.5 309.0 L262.0 309.0 L262.5 309.0 L263.0 309.0 L263.5 309.0 L264.0 309.0 L264.5 309.0 L265.0 309.0 L265.5 309.0 L266.0 309.0 L266.5 309.0 L267.0 309.0 L267.5 309.0 L268.0 309.0" fill="none" stroke="#f5507a" stroke-width="2.3" stroke-linejoin="round"/>
</g>
<rect x="43" y="240" width="223.8" height="181.5" fill="none" stroke="#000" stroke-width="2"/>
<line x1="40" y1="411.0" x2="43" y2="411.0" stroke="#000" stroke-width="1.5"/>
<text x="36.5" y="415.2" font-size="11.8" font-weight="bold" text-anchor="end" fill="#000" >0.0</text>
<line x1="41" y1="400.9" x2="43" y2="400.9" stroke="#000" stroke-width="1.5"/>
<line x1="40" y1="390.8" x2="43" y2="390.8" stroke="#000" stroke-width="1.5"/>
<text x="36.5" y="395.0" font-size="11.8" font-weight="bold" text-anchor="end" fill="#000" >0.2</text>
<line x1="41" y1="380.7" x2="43" y2="380.7" stroke="#000" stroke-width="1.5"/>
<line x1="40" y1="370.6" x2="43" y2="370.6" stroke="#000" stroke-width="1.5"/>
<text x="36.5" y="374.8" font-size="11.8" font-weight="bold" text-anchor="end" fill="#000" >0.4</text>
<line x1="41" y1="360.5" x2="43" y2="360.5" stroke="#000" stroke-width="1.5"/>
<line x1="40" y1="350.4" x2="43" y2="350.4" stroke="#000" stroke-width="1.5"/>
<text x="36.5" y="354.6" font-size="11.8" font-weight="bold" text-anchor="end" fill="#000" >0.6</text>
<line x1="41" y1="340.3" x2="43" y2="340.3" stroke="#000" stroke-width="1.5"/>
<line x1="40" y1="330.2" x2="43" y2="330.2" stroke="#000" stroke-width="1.5"/>
<text x="36.5" y="334.4" font-size="11.8" font-weight="bold" text-anchor="end" fill="#000" >0.8</text>
<line x1="41" y1="320.1" x2="43" y2="320.1" stroke="#000" stroke-width="1.5"/>
<line x1="40" y1="310.0" x2="43" y2="310.0" stroke="#000" stroke-width="1.5"/>
<text x="36.5" y="314.2" font-size="11.8" font-weight="bold" text-anchor="end" fill="#000" >1.0</text>
<line x1="41" y1="299.9" x2="43" y2="299.9" stroke="#000" stroke-width="1.5"/>
<line x1="40" y1="289.8" x2="43" y2="289.8" stroke="#000" stroke-width="1.5"/>
<text x="36.5" y="294.0" font-size="11.8" font-weight="bold" text-anchor="end" fill="#000" >1.2</text>
<line x1="41" y1="279.7" x2="43" y2="279.7" stroke="#000" stroke-width="1.5"/>
<line x1="40" y1="269.6" x2="43" y2="269.6" stroke="#000" stroke-width="1.5"/>
<text x="36.5" y="273.8" font-size="11.8" font-weight="bold" text-anchor="end" fill="#000" >1.4</text>
<line x1="41" y1="259.5" x2="43" y2="259.5" stroke="#000" stroke-width="1.5"/>
<line x1="40" y1="249.4" x2="43" y2="249.4" stroke="#000" stroke-width="1.5"/>
<text x="36.5" y="253.6" font-size="11.8" font-weight="bold" text-anchor="end" fill="#000" >1.6</text>
<line x1="41" y1="239.3" x2="43" y2="239.3" stroke="#000" stroke-width="1.5"/>
<line x1="43.0" y1="421.5" x2="43.0" y2="425.0" stroke="#000" stroke-width="1.5"/>
<text x="43.0" y="437.3" font-size="11.8" font-weight="bold" text-anchor="middle" fill="#000" >7700</text>
<line x1="65.4" y1="421.5" x2="65.4" y2="423.5" stroke="#000" stroke-width="1.5"/>
<line x1="87.8" y1="421.5" x2="87.8" y2="425.0" stroke="#000" stroke-width="1.5"/>
<text x="87.8" y="437.3" font-size="11.8" font-weight="bold" text-anchor="middle" fill="#000" >7720</text>
<line x1="110.1" y1="421.5" x2="110.1" y2="423.5" stroke="#000" stroke-width="1.5"/>
<line x1="132.5" y1="421.5" x2="132.5" y2="425.0" stroke="#000" stroke-width="1.5"/>
<text x="132.5" y="437.3" font-size="11.8" font-weight="bold" text-anchor="middle" fill="#000" >7740</text>
<line x1="154.9" y1="421.5" x2="154.9" y2="423.5" stroke="#000" stroke-width="1.5"/>
<line x1="177.3" y1="421.5" x2="177.3" y2="425.0" stroke="#000" stroke-width="1.5"/>
<text x="177.3" y="437.3" font-size="11.8" font-weight="bold" text-anchor="middle" fill="#000" >7760</text>
<line x1="199.7" y1="421.5" x2="199.7" y2="423.5" stroke="#000" stroke-width="1.5"/>
<line x1="222.0" y1="421.5" x2="222.0" y2="425.0" stroke="#000" stroke-width="1.5"/>
<text x="222.0" y="437.3" font-size="11.8" font-weight="bold" text-anchor="middle" fill="#000" >7780</text>
<line x1="244.4" y1="421.5" x2="244.4" y2="423.5" stroke="#000" stroke-width="1.5"/>
<line x1="266.8" y1="421.5" x2="266.8" y2="425.0" stroke="#000" stroke-width="1.5"/>
<text x="266.8" y="437.3" font-size="11.8" font-weight="bold" text-anchor="middle" fill="#000" >7800</text>
<text x="108.5" y="452" font-size="15" font-weight="bold" text-anchor="start" fill="#000" >Energy (eV)</text>
<text transform="translate(14.8 332.6) rotate(-90)" x="0" y="0" font-size="15.5" font-weight="bold" text-anchor="middle">Normalized Intensity</text>
<line x1="172.5" y1="349.6" x2="194.8" y2="349.6" stroke="#baa2e8" stroke-width="2.4"/>
<text x="197" y="353.0" font-size="9.4" font-weight="bold" text-anchor="start" fill="#000" >Co foil</text>
<line x1="172.5" y1="361.5" x2="194.8" y2="361.5" stroke="#4be2b2" stroke-width="2.4"/>
<text x="197" y="364.9" font-size="9.4" font-weight="bold" text-anchor="start" fill="#000" >CoPc</text>
<line x1="172.5" y1="373.3" x2="194.8" y2="373.3" stroke="#ffd662" stroke-width="2.4"/>
<text x="197" y="376.7" font-size="9.4" font-weight="bold" text-anchor="start" fill="#000" >CoO</text>
<line x1="172.5" y1="385.2" x2="194.8" y2="385.2" stroke="#7191e5" stroke-width="2.4"/>
<text x="197" y="388.6" font-size="9.4" font-weight="bold" text-anchor="start" fill="#000" >Co/N PCMS</text>
<line x1="172.5" y1="397.0" x2="194.8" y2="397.0" stroke="#f5507a" stroke-width="2.4"/>
<text x="197" y="400.4" font-size="9.4" font-weight="bold" text-anchor="start" fill="#000" >CoSA/N-PCMS</text>
<text x="278" y="259.5" font-size="28" font-weight="bold" text-anchor="start" fill="#000" >d</text>
<clipPath id="clipd"><rect x="322.3" y="241.3" width="221.99999999999994" height="178.7"/></clipPath>
<g clip-path="url(#clipd)">
<path d="M321.3 418.8 L321.8 418.8 L322.3 418.9 L322.8 418.9 L323.3 418.9 L323.8 418.9 L324.3 419.0 L324.8 419.0 L325.3 419.0 L325.8 419.0 L326.3 419.0 L326.8 419.1 L327.3 419.1 L327.8 419.1 L328.3 419.1 L328.8 419.1 L329.3 419.1 L329.8 419.1 L330.3 419.1 L330.8 419.1 L331.3 419.2 L331.8 419.2 L332.3 419.2 L332.8 419.2 L333.3 419.2 L333.8 419.2 L334.3 419.1 L334.8 419.1 L335.3 419.1 L335.8 419.1 L336.3 419.1 L336.8 419.1 L337.3 419.1 L337.8 419.1 L338.3 419.1 L338.8 419.0 L339.3 419.0 L339.8 419.0 L340.3 419.0 L340.8 418.9 L341.3 418.9 L341.8 418.9 L342.3 418.9 L342.8 418.8 L343.3 418.8 L343.8 418.8 L344.3 418.7 L344.8 418.6 L345.3 418.5 L345.8 418.3 L346.3 418.2 L346.8 418.0 L347.3 417.9 L347.8 417.7 L348.3 417.6 L348.8 417.5 L349.3 417.4 L349.8 417.4 L350.3 417.4 L350.8 417.5 L351.3 417.6 L351.8 417.7 L352.3 417.9 L352.8 418.0 L353.3 418.2 L353.8 418.4 L354.3 418.5 L354.8 418.6 L355.3 418.7 L355.8 418.7 L356.3 418.6 L356.8 418.5 L357.3 418.3 L357.8 418.0 L358.3 417.7 L358.8 417.3 L359.3 416.9 L359.8 416.5 L360.3 416.1 L360.8 415.8 L361.3 415.5 L361.8 415.2 L362.3 415.0 L362.8 414.9 L363.3 414.9 L363.8 415.0 L364.3 415.0 L364.8 415.1 L365.3 415.3 L365.8 415.4 L366.3 415.6 L366.8 415.8 L367.3 416.0 L367.8 416.2 L368.3 416.3 L368.8 416.3 L369.3 416.1 L369.8 415.6 L370.3 414.9 L370.8 414.0 L371.3 412.9 L371.8 411.9 L372.3 410.8 L372.8 409.9 L373.3 409.2 L373.8 408.5 L374.3 407.9 L374.8 407.3 L375.3 406.8 L375.8 406.2 L376.3 405.7 L376.8 405.2 L377.3 404.7 L377.8 404.1 L378.3 403.6 L378.8 403.0 L379.3 402.4 L379.8 401.9 L380.3 401.3 L380.8 400.7 L381.3 400.0 L381.8 399.2 L382.3 398.4 L382.8 397.4 L383.3 396.2 L383.8 394.8 L384.3 393.2 L384.8 391.6 L385.3 389.9 L385.8 388.3 L386.3 386.8 L386.8 385.3 L387.3 383.6 L387.8 381.6 L388.3 378.9 L388.8 375.5 L389.3 371.3 L389.8 366.6 L390.3 361.6 L390.8 356.4 L391.3 351.0 L391.8 345.5 L392.3 339.8 L392.8 334.0 L393.3 328.0 L393.8 322.1 L394.3 316.1 L394.8 310.1 L395.3 304.2 L395.8 298.4 L396.3 292.8 L396.8 287.4 L397.3 282.3 L397.8 277.5 L398.3 273.0 L398.8 268.9 L399.3 265.3 L399.8 262.1 L400.3 259.5 L400.8 257.4 L401.3 255.9 L401.8 255.0 L402.3 254.7 L402.8 254.8 L403.3 255.5 L403.8 256.7 L404.3 258.6 L404.8 261.0 L405.3 264.0 L405.8 267.5 L406.3 271.4 L406.8 275.7 L407.3 280.4 L407.8 285.4 L408.3 290.7 L408.8 296.3 L409.3 302.0 L409.8 307.8 L410.3 313.7 L410.8 319.7 L411.3 325.9 L411.8 332.3 L412.3 339.1 L412.8 346.5 L413.3 354.3 L413.8 362.2 L414.3 370.0 L414.8 377.2 L415.3 383.5 L415.8 388.9 L416.3 393.5 L416.8 397.4 L417.3 400.8 L417.8 403.5 L418.3 405.6 L418.8 407.0 L419.3 408.0 L419.8 408.6 L420.3 409.1 L420.8 409.5 L421.3 409.8 L421.8 410.1 L422.3 410.4 L422.8 410.7 L423.3 411.1 L423.8 411.4 L424.3 411.8 L424.8 412.2 L425.3 412.5 L425.8 412.9 L426.3 413.2 L426.8 413.6 L427.3 413.9 L427.8 414.1 L428.3 414.4 L428.8 414.6 L429.3 414.8 L429.8 415.0 L430.3 415.1 L430.8 415.1 L431.3 415.1 L431.8 414.9 L432.3 414.7 L432.8 414.4 L433.3 414.0 L433.8 413.5 L434.3 413.0 L434.8 412.4 L435.3 411.6 L435.8 410.6 L436.3 409.3 L436.8 407.8 L437.3 406.2 L437.8 404.7 L438.3 403.3 L438.8 402.3 L439.3 401.3 L439.8 400.5 L440.3 399.8 L440.8 399.1 L441.3 398.5 L441.8 397.9 L442.3 397.4 L442.8 396.9 L443.3 396.5 L443.8 396.2 L444.3 396.0 L444.8 395.9 L445.3 395.8 L445.8 395.8 L446.3 395.9 L446.8 396.0 L447.3 396.2 L447.8 396.4 L448.3 396.6 L448.8 396.9 L449.3 397.2 L449.8 397.5 L450.3 397.8 L450.8 398.2 L451.3 398.6 L451.8 399.1 L452.3 399.8 L452.8 400.5 L453.3 401.3 L453.8 402.1 L454.3 402.7 L454.8 403.1 L455.3 403.4 L455.8 403.3 L456.3 403.1 L456.8 402.8 L457.3 402.3 L457.8 401.8 L458.3 401.2 L458.8 400.5 L459.3 399.7 L459.8 398.9 L460.3 397.9 L460.8 396.7 L461.3 395.4 L461.8 393.8 L462.3 392.1 L462.8 390.2 L463.3 388.2 L463.8 386.2 L464.3 384.3 L464.8 382.3 L465.3 380.5 L465.8 378.8 L466.3 377.2 L466.8 375.5 L467.3 373.9 L467.8 372.2 L468.3 370.6 L468.8 369.0 L469.3 367.6 L469.8 366.2 L470.3 365.1 L470.8 364.3 L471.3 363.7 L471.8 363.3 L472.3 363.3 L472.8 363.6 L473.3 364.1 L473.8 364.8 L474.3 365.6 L474.8 366.6 L475.3 367.7 L475.8 368.8 L476.3 369.9 L476.8 371.0 L477.3 372.1 L477.8 373.2 L478.3 374.3 L478.8 375.4 L479.3 376.6 L479.8 377.8 L480.3 379.0 L480.8 380.1 L481.3 381.2 L481.8 382.0 L482.3 382.7 L482.8 383.0 L483.3 383.2 L483.8 383.1 L484.3 382.9 L484.8 382.5 L485.3 382.1 L485.8 381.6 L486.3 381.0 L486.8 380.5 L487.3 380.0 L487.8 379.5 L488.3 379.1 L488.8 378.8 L489.3 378.5 L489.8 378.2 L490.3 377.9 L490.8 377.7 L491.3 377.4 L491.8 377.2 L492.3 377.0 L492.8 376.9 L493.3 376.8 L493.8 376.7 L494.3 376.7 L494.8 376.8 L495.3 377.0 L495.8 377.2 L496.3 377.5 L496.8 378.0 L497.3 378.4 L497.8 378.9 L498.3 379.5 L498.8 380.1 L499.3 380.7 L499.8 381.3 L500.3 382.0 L500.8 382.9 L501.3 383.8 L501.8 384.8 L502.3 385.9 L502.8 387.0 L503.3 388.2 L503.8 389.4 L504.3 390.6 L504.8 391.7 L505.3 392.8 L505.8 393.8 L506.3 394.8 L506.8 395.7 L507.3 396.7 L507.8 397.6 L508.3 398.4 L508.8 399.3 L509.3 400.2 L509.8 401.0 L510.3 401.8 L510.8 402.6 L511.3 403.4 L511.8 404.2 L512.3 405.0 L512.8 405.8 L513.3 406.5 L513.8 407.3 L514.3 408.1 L514.8 408.8 L515.3 409.6 L515.8 410.3 L516.3 410.9 L516.8 411.6 L517.3 412.2 L517.8 412.7 L518.3 413.2 L518.8 413.7 L519.3 414.1 L519.8 414.5 L520.3 414.9 L520.8 415.3 L521.3 415.7 L521.8 416.1 L522.3 416.4 L522.8 416.7 L523.3 416.9 L523.8 417.1 L524.3 417.2 L524.8 417.3 L525.3 417.4 L525.8 417.4 L526.3 417.5 L526.8 417.5 L527.3 417.5 L527.8 417.6 L528.3 417.6 L528.8 417.6 L529.3 417.6 L529.8 417.6 L530.3 417.7 L530.8 417.7 L531.3 417.7 L531.8 417.7 L532.3 417.7 L532.8 417.7 L533.3 417.7 L533.8 417.7 L534.3 417.7 L534.8 417.7 L535.3 417.7 L535.8 417.6 L536.3 417.6 L536.8 417.5 L537.3 417.5 L537.8 417.5 L538.3 417.4 L538.8 417.4 L539.3 417.3 L539.8 417.2 L540.3 417.2 L540.8 417.1 L541.3 417.0 L541.8 416.9 L542.3 416.8 L542.8 416.6 L543.3 416.5 L543.8 416.4 L544.3 416.2 L544.8 416.1 L545.3 415.9 L545.8 415.8 L546.3 415.7" fill="none" stroke="#baa2e8" stroke-width="2.3" stroke-linejoin="round"/>
<path d="M321.3 414.7 L321.8 414.9 L322.3 415.2 L322.8 415.5 L323.3 415.7 L323.8 415.9 L324.3 416.1 L324.8 416.3 L325.3 416.4 L325.8 416.5 L326.3 416.6 L326.8 416.6 L327.3 416.5 L327.8 416.4 L328.3 416.3 L328.8 416.0 L329.3 415.7 L329.8 415.3 L330.3 415.0 L330.8 414.6 L331.3 414.2 L331.8 413.9 L332.3 413.7 L332.8 413.6 L333.3 413.5 L333.8 413.5 L334.3 413.6 L334.8 413.8 L335.3 414.0 L335.8 414.2 L336.3 414.4 L336.8 414.7 L337.3 414.9 L337.8 415.1 L338.3 415.3 L338.8 415.4 L339.3 415.4 L339.8 415.3 L340.3 415.0 L340.8 414.6 L341.3 414.0 L341.8 413.3 L342.3 412.6 L342.8 411.8 L343.3 411.1 L343.8 410.5 L344.3 409.9 L344.8 409.5 L345.3 409.2 L345.8 409.0 L346.3 408.8 L346.8 408.6 L347.3 408.5 L347.8 408.3 L348.3 408.2 L348.8 408.0 L349.3 407.8 L349.8 407.6 L350.3 407.4 L350.8 407.1 L351.3 406.7 L351.8 406.2 L352.3 405.7 L352.8 405.1 L353.3 404.5 L353.8 404.0 L354.3 403.4 L354.8 402.8 L355.3 402.2 L355.8 401.7 L356.3 401.1 L356.8 400.6 L357.3 400.0 L357.8 399.5 L358.3 399.0 L358.8 398.5 L359.3 398.2 L359.8 397.9 L360.3 397.8 L360.8 397.7 L361.3 397.6 L361.8 397.6 L362.3 397.5 L362.8 397.5 L363.3 397.4 L363.8 397.3 L364.3 397.2 L364.8 397.0 L365.3 396.7 L365.8 396.2 L366.3 395.5 L366.8 394.7 L367.3 393.8 L367.8 392.9 L368.3 391.8 L368.8 390.7 L369.3 389.4 L369.8 388.0 L370.3 386.5 L370.8 384.9 L371.3 383.3 L371.8 381.8 L372.3 380.4 L372.8 379.0 L373.3 377.8 L373.8 376.7 L374.3 375.6 L374.8 374.6 L375.3 373.6 L375.8 372.9 L376.3 372.3 L376.8 372.0 L377.3 372.0 L377.8 372.2 L378.3 372.6 L378.8 373.3 L379.3 374.2 L379.8 375.4 L380.3 377.0 L380.8 379.0 L381.3 381.5 L381.8 384.2 L382.3 386.9 L382.8 389.4 L383.3 391.7 L383.8 393.8 L384.3 395.7 L384.8 397.7 L385.3 399.5 L385.8 401.4 L386.3 403.3 L386.8 405.3 L387.3 407.2 L387.8 409.1 L388.3 410.9 L388.8 412.6 L389.3 414.1 L389.8 415.5 L390.3 416.7 L390.8 417.7 L391.3 418.5 L391.8 419.0 L392.3 419.2 L392.8 419.2 L393.3 419.0 L393.8 418.7 L394.3 418.3 L394.8 418.0 L395.3 417.7 L395.8 417.3 L396.3 417.1 L396.8 416.8 L397.3 416.6 L397.8 416.4 L398.3 416.1 L398.8 415.9 L399.3 415.6 L399.8 415.4 L400.3 415.1 L400.8 414.7 L401.3 414.3 L401.8 413.9 L402.3 413.3 L402.8 412.7 L403.3 412.1 L403.8 411.5 L404.3 410.9 L404.8 410.4 L405.3 410.0 L405.8 409.7 L406.3 409.4 L406.8 409.1 L407.3 408.9 L407.8 408.6 L408.3 408.4 L408.8 408.1 L409.3 407.9 L409.8 407.6 L410.3 407.3 L410.8 406.9 L411.3 406.5 L411.8 406.2 L412.3 405.8 L412.8 405.4 L413.3 405.1 L413.8 404.8 L414.3 404.6 L414.8 404.5 L415.3 404.5 L415.8 404.5 L416.3 404.6 L416.8 404.8 L417.3 405.0 L417.8 405.3 L418.3 405.6 L418.8 405.9 L419.3 406.2 L419.8 406.5 L420.3 406.8 L420.8 407.2 L421.3 407.5 L421.8 407.9 L422.3 408.3 L422.8 408.8 L423.3 409.3 L423.8 409.9 L424.3 410.4 L424.8 411.0 L425.3 411.5 L425.8 412.0 L426.3 412.6 L426.8 413.0 L427.3 413.4 L427.8 413.8 L428.3 414.0 L428.8 414.2 L429.3 414.4 L429.8 414.4 L430.3 414.4 L430.8 414.4 L431.3 414.4 L431.8 414.3 L432.3 414.3 L432.8 414.2 L433.3 414.2 L433.8 414.1 L434.3 414.1 L434.8 414.0 L435.3 414.0 L435.8 413.9 L436.3 413.9 L436.8 413.8 L437.3 413.8 L437.8 413.8 L438.3 413.8 L438.8 413.8 L439.3 413.8 L439.8 413.8 L440.3 413.8 L440.8 413.9 L441.3 413.9 L441.8 413.9 L442.3 414.0 L442.8 414.0 L443.3 414.1 L443.8 414.1 L444.3 414.2 L444.8 414.2 L445.3 414.3 L445.8 414.3 L446.3 414.4 L446.8 414.4 L447.3 414.4 L447.8 414.4 L448.3 414.4 L448.8 414.4 L449.3 414.3 L449.8 414.2 L450.3 414.0 L450.8 413.8 L451.3 413.5 L451.8 413.3 L452.3 413.0 L452.8 412.7 L453.3 412.5 L453.8 412.2 L454.3 412.0 L454.8 411.8 L455.3 411.7 L455.8 411.7 L456.3 411.7 L456.8 411.7 L457.3 411.8 L457.8 411.9 L458.3 412.1 L458.8 412.2 L459.3 412.4 L459.8 412.7 L460.3 412.9 L460.8 413.2 L461.3 413.5 L461.8 413.8 L462.3 414.1 L462.8 414.4 L463.3 414.8 L463.8 415.2 L464.3 415.8 L464.8 416.4 L465.3 417.0 L465.8 417.5 L466.3 418.0 L466.8 418.4 L467.3 418.6 L467.8 418.7 L468.3 418.7 L468.8 418.6 L469.3 418.6 L469.8 418.4 L470.3 418.3 L470.8 418.2 L471.3 418.1 L471.8 417.9 L472.3 417.8 L472.8 417.7 L473.3 417.6 L473.8 417.5 L474.3 417.4 L474.8 417.4 L475.3 417.5 L475.8 417.6 L476.3 417.7 L476.8 417.9 L477.3 418.1 L477.8 418.3 L478.3 418.5 L478.8 418.6 L479.3 418.6 L479.8 418.6 L480.3 418.4 L480.8 418.1 L481.3 417.7 L481.8 417.2 L482.3 416.7 L482.8 416.2 L483.3 415.7 L483.8 415.2 L484.3 414.8 L484.8 414.5 L485.3 414.3 L485.8 414.2 L486.3 414.2 L486.8 414.2 L487.3 414.2 L487.8 414.3 L488.3 414.4 L488.8 414.4 L489.3 414.5 L489.8 414.6 L490.3 414.6 L490.8 414.7 L491.3 414.8 L491.8 414.8 L492.3 414.8 L492.8 414.8 L493.3 414.8 L493.8 414.7 L494.3 414.7 L494.8 414.6 L495.3 414.5 L495.8 414.4 L496.3 414.3 L496.8 414.2 L497.3 414.1 L497.8 414.1 L498.3 414.0 L498.8 413.9 L499.3 413.8 L499.8 413.8 L500.3 413.8 L500.8 413.8 L501.3 413.9 L501.8 414.1 L502.3 414.3 L502.8 414.5 L503.3 414.8 L503.8 415.1 L504.3 415.4 L504.8 415.8 L505.3 416.1 L505.8 416.5 L506.3 416.8 L506.8 417.1 L507.3 417.3 L507.8 417.6 L508.3 417.8 L508.8 418.1 L509.3 418.3 L509.8 418.5 L510.3 418.6 L510.8 418.7 L511.3 418.8 L511.8 418.8 L512.3 418.7 L512.8 418.7 L513.3 418.7 L513.8 418.6 L514.3 418.6 L514.8 418.5 L515.3 418.4 L515.8 418.4 L516.3 418.3 L516.8 418.2 L517.3 418.2 L517.8 418.1 L518.3 418.0 L518.8 418.0 L519.3 417.9 L519.8 417.9 L520.3 417.8 L520.8 417.8 L521.3 417.7 L521.8 417.7 L522.3 417.7 L522.8 417.7 L523.3 417.7 L523.8 417.7 L524.3 417.8 L524.8 417.8 L525.3 417.8 L525.8 417.8 L526.3 417.8 L526.8 417.9 L527.3 417.9 L527.8 417.9 L528.3 417.9 L528.8 417.9 L529.3 418.0 L529.8 418.0 L530.3 418.0 L530.8 418.0 L531.3 418.0 L531.8 418.1 L532.3 418.1 L532.8 418.1 L533.3 418.1 L533.8 418.1 L534.3 418.1 L534.8 418.1 L535.3 418.0 L535.8 418.0 L536.3 418.0 L536.8 418.0 L537.3 418.0 L537.8 417.9 L538.3 417.9 L538.8 417.9 L539.3 417.8 L539.8 417.8 L540.3 417.7 L540.8 417.7 L541.3 417.6 L541.8 417.6 L542.3 417.5 L542.8 417.5 L543.3 417.4 L543.8 417.3 L544.3 417.3 L544.8 417.2 L545.3 417.1 L545.8 417.1 L546.3 417.0" fill="none" stroke="#4be2b2" stroke-width="2.3" stroke-linejoin="round"/>
<path d="M321.3 419.5 L321.8 419.5 L322.3 419.5 L322.8 419.5 L323.3 419.5 L323.8 419.5 L324.3 419.5 L324.8 419.5 L325.3 419.5 L325.8 419.5 L326.3 419.5 L326.8 419.5 L327.3 419.5 L327.8 419.5 L328.3 419.5 L328.8 419.5 L329.3 419.5 L329.8 419.5 L330.3 419.5 L330.8 419.5 L331.3 419.5 L331.8 419.5 L332.3 419.5 L332.8 419.5 L333.3 419.5 L333.8 419.5 L334.3 419.5 L334.8 419.5 L335.3 419.5 L335.8 419.5 L336.3 419.5 L336.8 419.5 L337.3 419.5 L337.8 419.5 L338.3 419.5 L338.8 419.5 L339.3 419.5 L339.8 419.4 L340.3 419.4 L340.8 419.4 L341.3 419.3 L341.8 419.3 L342.3 419.3 L342.8 419.2 L343.3 419.2 L343.8 419.2 L344.3 419.1 L344.8 419.1 L345.3 419.0 L345.8 419.0 L346.3 418.9 L346.8 418.9 L347.3 418.8 L347.8 418.7 L348.3 418.6 L348.8 418.5 L349.3 418.3 L349.8 418.1 L350.3 417.9 L350.8 417.7 L351.3 417.5 L351.8 417.3 L352.3 417.1 L352.8 416.8 L353.3 416.6 L353.8 416.4 L354.3 416.2 L354.8 415.9 L355.3 415.7 L355.8 415.5 L356.3 415.2 L356.8 415.0 L357.3 414.8 L357.8 414.5 L358.3 414.3 L358.8 414.0 L359.3 413.7 L359.8 413.5 L360.3 413.2 L360.8 412.9 L361.3 412.7 L361.8 412.4 L362.3 412.1 L362.8 411.8 L363.3 411.5 L363.8 411.2 L364.3 410.9 L364.8 410.6 L365.3 410.3 L365.8 410.1 L366.3 409.8 L366.8 409.5 L367.3 409.3 L367.8 409.0 L368.3 408.8 L368.8 408.5 L369.3 408.3 L369.8 408.0 L370.3 407.8 L370.8 407.6 L371.3 407.5 L371.8 407.3 L372.3 407.2 L372.8 407.1 L373.3 407.0 L373.8 407.0 L374.3 406.9 L374.8 406.8 L375.3 406.7 L375.8 406.6 L376.3 406.4 L376.8 406.2 L377.3 405.8 L377.8 405.3 L378.3 404.7 L378.8 404.0 L379.3 403.3 L379.8 402.5 L380.3 401.8 L380.8 401.1 L381.3 400.4 L381.8 399.8 L382.3 399.2 L382.8 398.6 L383.3 398.0 L383.8 397.6 L384.3 397.3 L384.8 397.1 L385.3 397.3 L385.8 397.7 L386.3 398.3 L386.8 399.1 L387.3 400.0 L387.8 401.1 L388.3 402.1 L388.8 403.2 L389.3 404.2 L389.8 405.3 L390.3 406.5 L390.8 407.6 L391.3 408.9 L391.8 410.1 L392.3 411.2 L392.8 412.2 L393.3 413.1 L393.8 413.7 L394.3 414.1 L394.8 414.3 L395.3 414.2 L395.8 414.1 L396.3 413.9 L396.8 413.6 L397.3 413.3 L397.8 412.9 L398.3 412.5 L398.8 412.1 L399.3 411.6 L399.8 411.0 L400.3 410.3 L400.8 409.5 L401.3 408.6 L401.8 407.7 L402.3 406.6 L402.8 405.6 L403.3 404.5 L403.8 403.4 L404.3 402.2 L404.8 401.1 L405.3 400.0 L405.8 398.8 L406.3 397.6 L406.8 396.4 L407.3 395.1 L407.8 393.7 L408.3 392.3 L408.8 390.8 L409.3 389.1 L409.8 387.3 L410.3 385.2 L410.8 382.9 L411.3 380.4 L411.8 377.7 L412.3 375.0 L412.8 372.3 L413.3 369.7 L413.8 367.3 L414.3 364.9 L414.8 362.6 L415.3 360.5 L415.8 358.5 L416.3 356.7 L416.8 355.0 L417.3 353.6 L417.8 352.3 L418.3 351.2 L418.8 350.5 L419.3 350.2 L419.8 350.2 L420.3 350.7 L420.8 351.4 L421.3 352.3 L421.8 353.5 L422.3 354.8 L422.8 356.4 L423.3 358.3 L423.8 360.6 L424.3 363.2 L424.8 366.0 L425.3 369.1 L425.8 372.2 L426.3 375.4 L426.8 378.5 L427.3 381.4 L427.8 384.3 L428.3 387.0 L428.8 389.7 L429.3 392.4 L429.8 395.0 L430.3 397.5 L430.8 399.9 L431.3 402.2 L431.8 404.4 L432.3 406.4 L432.8 408.4 L433.3 410.3 L433.8 411.9 L434.3 413.2 L434.8 414.2 L435.3 415.0 L435.8 415.6 L436.3 416.1 L436.8 416.6 L437.3 416.9 L437.8 417.3 L438.3 417.6 L438.8 417.8 L439.3 417.9 L439.8 418.0 L440.3 418.0 L440.8 418.0 L441.3 418.0 L441.8 418.0 L442.3 418.0 L442.8 417.9 L443.3 417.9 L443.8 417.8 L444.3 417.8 L444.8 417.7 L445.3 417.6 L445.8 417.6 L446.3 417.5 L446.8 417.3 L447.3 417.2 L447.8 416.9 L448.3 416.5 L448.8 416.1 L449.3 415.5 L449.8 414.9 L450.3 414.2 L450.8 413.5 L451.3 412.7 L451.8 412.0 L452.3 411.2 L452.8 410.4 L453.3 409.5 L453.8 408.6 L454.3 407.7 L454.8 406.6 L455.3 405.5 L455.8 404.4 L456.3 403.2 L456.8 402.1 L457.3 401.0 L457.8 400.1 L458.3 399.2 L458.8 398.5 L459.3 397.9 L459.8 397.5 L460.3 397.2 L460.8 397.0 L461.3 396.8 L461.8 396.7 L462.3 396.6 L462.8 396.5 L463.3 396.5 L463.8 396.5 L464.3 396.6 L464.8 396.7 L465.3 396.9 L465.8 397.1 L466.3 397.3 L466.8 397.5 L467.3 397.8 L467.8 398.0 L468.3 398.3 L468.8 398.6 L469.3 398.9 L469.8 399.2 L470.3 399.5 L470.8 399.8 L471.3 400.1 L471.8 400.5 L472.3 400.8 L472.8 401.2 L473.3 401.5 L473.8 401.8 L474.3 402.2 L474.8 402.5 L475.3 402.8 L475.8 403.1 L476.3 403.4 L476.8 403.7 L477.3 404.0 L477.8 404.2 L478.3 404.4 L478.8 404.6 L479.3 404.6 L479.8 404.6 L480.3 404.5 L480.8 404.3 L481.3 404.1 L481.8 403.8 L482.3 403.5 L482.8 403.1 L483.3 402.7 L483.8 402.2 L484.3 401.8 L484.8 401.3 L485.3 400.8 L485.8 400.4 L486.3 400.0 L486.8 399.5 L487.3 399.2 L487.8 398.8 L488.3 398.5 L488.8 398.2 L489.3 398.0 L489.8 397.7 L490.3 397.5 L490.8 397.3 L491.3 397.0 L491.8 396.8 L492.3 396.6 L492.8 396.4 L493.3 396.2 L493.8 396.0 L494.3 395.9 L494.8 395.7 L495.3 395.6 L495.8 395.5 L496.3 395.5 L496.8 395.4 L497.3 395.4 L497.8 395.4 L498.3 395.5 L498.8 395.6 L499.3 395.7 L499.8 395.8 L500.3 396.0 L500.8 396.2 L501.3 396.4 L501.8 396.6 L502.3 396.8 L502.8 397.1 L503.3 397.4 L503.8 397.8 L504.3 398.3 L504.8 398.9 L505.3 399.7 L505.8 400.5 L506.3 401.5 L506.8 402.5 L507.3 403.6 L507.8 404.7 L508.3 405.8 L508.8 406.9 L509.3 408.1 L509.8 409.4 L510.3 410.7 L510.8 412.2 L511.3 413.6 L511.8 414.9 L512.3 416.1 L512.8 416.9 L513.3 417.5 L513.8 417.8 L514.3 417.9 L514.8 417.9 L515.3 417.8 L515.8 417.7 L516.3 417.5 L516.8 417.2 L517.3 416.7 L517.8 415.9 L518.3 414.8 L518.8 413.5 L519.3 412.0 L519.8 410.5 L520.3 409.0 L520.8 407.8 L521.3 406.7 L521.8 405.8 L522.3 405.0 L522.8 404.3 L523.3 403.6 L523.8 403.0 L524.3 402.4 L524.8 401.8 L525.3 401.4 L525.8 401.0 L526.3 400.6 L526.8 400.4 L527.3 400.2 L527.8 400.2 L528.3 400.3 L528.8 400.4 L529.3 400.7 L529.8 401.1 L530.3 401.5 L530.8 402.0 L531.3 402.5 L531.8 403.1 L532.3 403.7 L532.8 404.4 L533.3 405.3 L533.8 406.2 L534.3 407.2 L534.8 408.3 L535.3 409.5 L535.8 410.6 L536.3 411.8 L536.8 412.8 L537.3 413.8 L537.8 414.8 L538.3 415.8 L538.8 416.7 L539.3 417.5 L539.8 418.1 L540.3 418.5 L540.8 418.8 L541.3 419.0 L541.8 419.1 L542.3 419.2 L542.8 419.2 L543.3 419.3 L543.8 419.4 L544.3 419.4 L544.8 419.5 L545.3 419.5 L545.8 419.5 L546.3 419.5" fill="none" stroke="#ffd662" stroke-width="2.3" stroke-linejoin="round"/>
<path d="M321.3 419.2 L321.8 419.2 L322.3 419.2 L322.8 419.3 L323.3 419.3 L323.8 419.3 L324.3 419.3 L324.8 419.4 L325.3 419.4 L325.8 419.4 L326.3 419.4 L326.8 419.4 L327.3 419.5 L327.8 419.5 L328.3 419.5 L328.8 419.5 L329.3 419.5 L329.8 419.5 L330.3 419.5 L330.8 419.5 L331.3 419.5 L331.8 419.5 L332.3 419.5 L332.8 419.5 L333.3 419.5 L333.8 419.5 L334.3 419.5 L334.8 419.5 L335.3 419.5 L335.8 419.4 L336.3 419.4 L336.8 419.4 L337.3 419.4 L337.8 419.3 L338.3 419.3 L338.8 419.2 L339.3 419.2 L339.8 419.2 L340.3 419.1 L340.8 419.1 L341.3 419.0 L341.8 419.0 L342.3 418.9 L342.8 418.9 L343.3 418.8 L343.8 418.7 L344.3 418.7 L344.8 418.6 L345.3 418.4 L345.8 418.3 L346.3 418.1 L346.8 418.0 L347.3 417.8 L347.8 417.7 L348.3 417.6 L348.8 417.5 L349.3 417.4 L349.8 417.4 L350.3 417.4 L350.8 417.5 L351.3 417.6 L351.8 417.8 L352.3 418.0 L352.8 418.2 L353.3 418.4 L353.8 418.6 L354.3 418.8 L354.8 418.9 L355.3 419.0 L355.8 419.0 L356.3 419.0 L356.8 418.8 L357.3 418.6 L357.8 418.3 L358.3 417.9 L358.8 417.5 L359.3 417.1 L359.8 416.7 L360.3 416.3 L360.8 415.9 L361.3 415.5 L361.8 415.3 L362.3 415.1 L362.8 415.0 L363.3 414.9 L363.8 414.9 L364.3 415.0 L364.8 415.1 L365.3 415.3 L365.8 415.4 L366.3 415.6 L366.8 415.9 L367.3 416.2 L367.8 416.4 L368.3 416.6 L368.8 416.6 L369.3 416.4 L369.8 416.0 L370.3 415.2 L370.8 414.3 L371.3 413.3 L371.8 412.2 L372.3 411.2 L372.8 410.3 L373.3 409.5 L373.8 408.9 L374.3 408.3 L374.8 407.8 L375.3 407.3 L375.8 406.8 L376.3 406.3 L376.8 405.8 L377.3 405.3 L377.8 404.8 L378.3 404.3 L378.8 403.8 L379.3 403.2 L379.8 402.7 L380.3 402.1 L380.8 401.6 L381.3 400.9 L381.8 400.2 L382.3 399.5 L382.8 398.6 L383.3 397.5 L383.8 396.3 L384.3 394.9 L384.8 393.4 L385.3 391.7 L385.8 389.8 L386.3 387.6 L386.8 385.2 L387.3 382.6 L387.8 380.0 L388.3 377.5 L388.8 375.1 L389.3 372.8 L389.8 370.3 L390.3 367.5 L390.8 364.1 L391.3 360.1 L391.8 355.8 L392.3 351.2 L392.8 346.5 L393.3 341.8 L393.8 337.0 L394.3 332.3 L394.8 327.5 L395.3 322.8 L395.8 318.2 L396.3 313.7 L396.8 309.4 L397.3 305.2 L397.8 301.3 L398.3 297.6 L398.8 294.2 L399.3 291.1 L399.8 288.3 L400.3 285.9 L400.8 283.8 L401.3 282.2 L401.8 281.0 L402.3 280.3 L402.8 280.0 L403.3 280.1 L403.8 280.5 L404.3 281.4 L404.8 282.8 L405.3 284.6 L405.8 286.7 L406.3 289.3 L406.8 292.2 L407.3 295.4 L407.8 299.0 L408.3 302.8 L408.8 306.8 L409.3 311.0 L409.8 315.4 L410.3 320.0 L410.8 324.6 L411.3 329.3 L411.8 334.1 L412.3 339.4 L412.8 345.3 L413.3 352.3 L413.8 360.1 L414.3 368.4 L414.8 376.5 L415.3 383.8 L415.8 389.8 L416.3 394.8 L416.8 398.8 L417.3 402.1 L417.8 404.8 L418.3 406.7 L418.8 408.1 L419.3 408.9 L419.8 409.4 L420.3 409.8 L420.8 410.1 L421.3 410.3 L421.8 410.6 L422.3 410.8 L422.8 411.1 L423.3 411.4 L423.8 411.8 L424.3 412.1 L424.8 412.5 L425.3 412.9 L425.8 413.3 L426.3 413.7 L426.8 414.0 L427.3 414.4 L427.8 414.7 L428.3 415.0 L428.8 415.3 L429.3 415.5 L429.8 415.6 L430.3 415.8 L430.8 415.8 L431.3 415.8 L431.8 415.8 L432.3 415.7 L432.8 415.6 L433.3 415.5 L433.8 415.3 L434.3 415.0 L434.8 414.8 L435.3 414.4 L435.8 413.9 L436.3 413.1 L436.8 412.1 L437.3 410.9 L437.8 409.6 L438.3 408.3 L438.8 407.0 L439.3 405.9 L439.8 404.9 L440.3 404.0 L440.8 403.3 L441.3 402.6 L441.8 401.9 L442.3 401.3 L442.8 400.8 L443.3 400.3 L443.8 400.0 L444.3 399.7 L444.8 399.5 L445.3 399.5 L445.8 399.5 L446.3 399.6 L446.8 399.7 L447.3 400.0 L447.8 400.2 L448.3 400.5 L448.8 400.8 L449.3 401.1 L449.8 401.4 L450.3 401.8 L450.8 402.2 L451.3 402.6 L451.8 403.1 L452.3 403.7 L452.8 404.2 L453.3 404.7 L453.8 405.1 L454.3 405.4 L454.8 405.6 L455.3 405.6 L455.8 405.5 L456.3 405.3 L456.8 405.0 L457.3 404.5 L457.8 404.0 L458.3 403.4 L458.8 402.7 L459.3 401.9 L459.8 401.1 L460.3 400.1 L460.8 398.9 L461.3 397.5 L461.8 396.0 L462.3 394.4 L462.8 392.7 L463.3 391.0 L463.8 389.4 L464.3 387.8 L464.8 386.3 L465.3 384.8 L465.8 383.3 L466.3 381.8 L466.8 380.4 L467.3 379.0 L467.8 377.8 L468.3 376.7 L468.8 375.6 L469.3 374.7 L469.8 373.9 L470.3 373.1 L470.8 372.5 L471.3 371.9 L471.8 371.5 L472.3 371.3 L472.8 371.3 L473.3 371.7 L473.8 372.4 L474.3 373.4 L474.8 374.6 L475.3 375.9 L475.8 377.2 L476.3 378.5 L476.8 379.7 L477.3 380.7 L477.8 381.6 L478.3 382.5 L478.8 383.4 L479.3 384.2 L479.8 385.0 L480.3 385.7 L480.8 386.4 L481.3 386.9 L481.8 387.4 L482.3 387.7 L482.8 387.9 L483.3 388.0 L483.8 388.0 L484.3 387.8 L484.8 387.6 L485.3 387.4 L485.8 387.1 L486.3 386.7 L486.8 386.4 L487.3 386.1 L487.8 385.8 L488.3 385.5 L488.8 385.2 L489.3 385.0 L489.8 384.7 L490.3 384.5 L490.8 384.3 L491.3 384.1 L491.8 383.9 L492.3 383.7 L492.8 383.6 L493.3 383.6 L493.8 383.6 L494.3 383.7 L494.8 383.8 L495.3 384.1 L495.8 384.4 L496.3 384.7 L496.8 385.1 L497.3 385.5 L497.8 385.9 L498.3 386.3 L498.8 386.8 L499.3 387.3 L499.8 387.8 L500.3 388.4 L500.8 389.1 L501.3 389.7 L501.8 390.4 L502.3 391.2 L502.8 391.9 L503.3 392.7 L503.8 393.4 L504.3 394.2 L504.8 395.0 L505.3 395.7 L505.8 396.5 L506.3 397.2 L506.8 398.0 L507.3 398.8 L507.8 399.6 L508.3 400.4 L508.8 401.2 L509.3 402.0 L509.8 402.7 L510.3 403.5 L510.8 404.2 L511.3 405.0 L511.8 405.7 L512.3 406.5 L512.8 407.2 L513.3 407.9 L513.8 408.7 L514.3 409.4 L514.8 410.0 L515.3 410.7 L515.8 411.3 L516.3 411.9 L516.8 412.5 L517.3 413.0 L517.8 413.5 L518.3 414.0 L518.8 414.5 L519.3 414.9 L519.8 415.3 L520.3 415.6 L520.8 415.9 L521.3 416.2 L521.8 416.4 L522.3 416.5 L522.8 416.7 L523.3 416.8 L523.8 416.9 L524.3 417.0 L524.8 417.1 L525.3 417.3 L525.8 417.4 L526.3 417.5 L526.8 417.5 L527.3 417.6 L527.8 417.7 L528.3 417.8 L528.8 417.8 L529.3 417.9 L529.8 417.9 L530.3 418.0 L530.8 418.0 L531.3 418.0 L531.8 418.1 L532.3 418.1 L532.8 418.0 L533.3 418.0 L533.8 417.9 L534.3 417.9 L534.8 417.8 L535.3 417.6 L535.8 417.5 L536.3 417.4 L536.8 417.3 L537.3 417.2 L537.8 417.1 L538.3 417.1 L538.8 417.0 L539.3 417.0 L539.8 417.0 L540.3 417.0 L540.8 417.0 L541.3 417.0 L541.8 417.0 L542.3 417.0 L542.8 417.0 L543.3 417.0 L543.8 417.0 L544.3 417.0 L544.8 417.0 L545.3 417.0 L545.8 417.0 L546.3 417.0" fill="none" stroke="#7191e5" stroke-width="2.3" stroke-linejoin="round"/>
<path d="M321.3 417.6 L321.8 417.7 L322.3 418.0 L322.8 418.2 L323.3 418.5 L323.8 418.7 L324.3 418.9 L324.8 419.0 L325.3 419.2 L325.8 419.3 L326.3 419.4 L326.8 419.4 L327.3 419.5 L327.8 419.5 L328.3 419.4 L328.8 419.3 L329.3 419.2 L329.8 419.0 L330.3 418.7 L330.8 418.4 L331.3 418.1 L331.8 417.7 L332.3 417.4 L332.8 417.0 L333.3 416.7 L333.8 416.4 L334.3 416.1 L334.8 415.9 L335.3 415.8 L335.8 415.7 L336.3 415.7 L336.8 415.7 L337.3 415.8 L337.8 416.0 L338.3 416.3 L338.8 416.5 L339.3 416.8 L339.8 417.2 L340.3 417.5 L340.8 417.8 L341.3 418.1 L341.8 418.4 L342.3 418.7 L342.8 418.8 L343.3 419.0 L343.8 419.0 L344.3 418.9 L344.8 418.7 L345.3 418.3 L345.8 417.7 L346.3 417.0 L346.8 416.3 L347.3 415.4 L347.8 414.6 L348.3 413.7 L348.8 412.8 L349.3 412.0 L349.8 411.3 L350.3 410.7 L350.8 410.1 L351.3 409.7 L351.8 409.2 L352.3 408.9 L352.8 408.5 L353.3 408.2 L353.8 407.9 L354.3 407.6 L354.8 407.3 L355.3 407.0 L355.8 406.8 L356.3 406.6 L356.8 406.3 L357.3 406.1 L357.8 405.9 L358.3 405.7 L358.8 405.5 L359.3 405.3 L359.8 405.0 L360.3 404.7 L360.8 404.4 L361.3 404.0 L361.8 403.6 L362.3 403.2 L362.8 402.7 L363.3 402.2 L363.8 401.7 L364.3 401.1 L364.8 400.6 L365.3 400.0 L365.8 399.4 L366.3 398.9 L366.8 398.3 L367.3 397.7 L367.8 397.2 L368.3 396.6 L368.8 396.0 L369.3 395.4 L369.8 394.8 L370.3 394.1 L370.8 393.5 L371.3 392.9 L371.8 392.4 L372.3 392.0 L372.8 391.7 L373.3 391.6 L373.8 391.5 L374.3 391.6 L374.8 391.7 L375.3 391.9 L375.8 392.1 L376.3 392.4 L376.8 392.7 L377.3 393.2 L377.8 393.7 L378.3 394.4 L378.8 395.2 L379.3 396.2 L379.8 397.2 L380.3 398.3 L380.8 399.4 L381.3 400.6 L381.8 401.8 L382.3 403.0 L382.8 404.3 L383.3 405.7 L383.8 407.1 L384.3 408.5 L384.8 409.9 L385.3 411.2 L385.8 412.5 L386.3 413.7 L386.8 414.9 L387.3 415.9 L387.8 416.8 L388.3 417.3 L388.8 417.4 L389.3 417.2 L389.8 416.5 L390.3 415.7 L390.8 414.7 L391.3 413.7 L391.8 412.9 L392.3 412.2 L392.8 411.7 L393.3 411.3 L393.8 411.0 L394.3 410.7 L394.8 410.4 L395.3 410.2 L395.8 410.0 L396.3 409.9 L396.8 409.9 L397.3 410.0 L397.8 410.1 L398.3 410.4 L398.8 410.7 L399.3 411.0 L399.8 411.4 L400.3 411.9 L400.8 412.3 L401.3 412.7 L401.8 413.2 L402.3 413.7 L402.8 414.3 L403.3 414.8 L403.8 415.2 L404.3 415.6 L404.8 415.9 L405.3 416.1 L405.8 416.3 L406.3 416.4 L406.8 416.6 L407.3 416.7 L407.8 416.8 L408.3 416.9 L408.8 416.9 L409.3 417.0 L409.8 417.0 L410.3 417.0 L410.8 416.9 L411.3 416.9 L411.8 416.8 L412.3 416.7 L412.8 416.7 L413.3 416.6 L413.8 416.5 L414.3 416.4 L414.8 416.4 L415.3 416.3 L415.8 416.3 L416.3 416.3 L416.8 416.3 L417.3 416.4 L417.8 416.5 L418.3 416.6 L418.8 416.7 L419.3 416.8 L419.8 416.9 L420.3 417.0 L420.8 417.1 L421.3 417.2 L421.8 417.3 L422.3 417.3 L422.8 417.3 L423.3 417.2 L423.8 417.1 L424.3 417.0 L424.8 416.8 L425.3 416.7 L425.8 416.6 L426.3 416.4 L426.8 416.4 L427.3 416.4 L427.8 416.4 L428.3 416.5 L428.8 416.6 L429.3 416.8 L429.8 417.0 L430.3 417.3 L430.8 417.5 L431.3 417.7 L431.8 417.8 L432.3 417.9 L432.8 418.0 L433.3 418.0 L433.8 418.0 L434.3 418.0 L434.8 417.9 L435.3 417.8 L435.8 417.7 L436.3 417.6 L436.8 417.5 L437.3 417.4 L437.8 417.3 L438.3 417.2 L438.8 417.1 L439.3 417.1 L439.8 417.0 L440.3 417.0 L440.8 417.0 L441.3 417.0 L441.8 417.1 L442.3 417.1 L442.8 417.1 L443.3 417.2 L443.8 417.2 L444.3 417.3 L444.8 417.3 L445.3 417.4 L445.8 417.4 L446.3 417.5 L446.8 417.5 L447.3 417.6 L447.8 417.6 L448.3 417.7 L448.8 417.7 L449.3 417.7 L449.8 417.7 L450.3 417.7 L450.8 417.7 L451.3 417.6 L451.8 417.6 L452.3 417.6 L452.8 417.5 L453.3 417.5 L453.8 417.4 L454.3 417.4 L454.8 417.3 L455.3 417.2 L455.8 417.2 L456.3 417.1 L456.8 417.1 L457.3 417.1 L457.8 417.0 L458.3 417.0 L458.8 417.0 L459.3 417.0 L459.8 417.1 L460.3 417.1 L460.8 417.2 L461.3 417.3 L461.8 417.4 L462.3 417.5 L462.8 417.6 L463.3 417.7 L463.8 417.8 L464.3 417.9 L464.8 417.9 L465.3 418.0 L465.8 418.0 L466.3 418.1 L466.8 418.1 L467.3 418.1 L467.8 418.0 L468.3 418.0 L468.8 418.0 L469.3 418.0 L469.8 417.9 L470.3 417.9 L470.8 417.9 L471.3 417.9 L471.8 417.8 L472.3 417.8 L472.8 417.8 L473.3 417.8 L473.8 417.7 L474.3 417.7 L474.8 417.7 L475.3 417.7 L475.8 417.8 L476.3 417.8 L476.8 417.9 L477.3 417.9 L477.8 418.0 L478.3 418.1 L478.8 418.2 L479.3 418.3 L479.8 418.4 L480.3 418.5 L480.8 418.6 L481.3 418.7 L481.8 418.8 L482.3 418.9 L482.8 419.0 L483.3 419.0 L483.8 419.1 L484.3 419.1 L484.8 419.1 L485.3 419.1 L485.8 419.1 L486.3 419.1 L486.8 419.1 L487.3 419.1 L487.8 419.1 L488.3 419.1 L488.8 419.0 L489.3 419.0 L489.8 419.0 L490.3 418.9 L490.8 418.9 L491.3 418.9 L491.8 418.8 L492.3 418.8 L492.8 418.8 L493.3 418.7 L493.8 418.7 L494.3 418.7 L494.8 418.6 L495.3 418.6 L495.8 418.6 L496.3 418.5 L496.8 418.5 L497.3 418.5 L497.8 418.5 L498.3 418.5 L498.8 418.5 L499.3 418.4 L499.8 418.4 L500.3 418.4 L500.8 418.5 L501.3 418.5 L501.8 418.5 L502.3 418.5 L502.8 418.5 L503.3 418.5 L503.8 418.6 L504.3 418.6 L504.8 418.6 L505.3 418.7 L505.8 418.7 L506.3 418.7 L506.8 418.8 L507.3 418.8 L507.8 418.8 L508.3 418.9 L508.8 418.9 L509.3 418.9 L509.8 419.0 L510.3 419.0 L510.8 419.0 L511.3 419.1 L511.8 419.1 L512.3 419.1 L512.8 419.1 L513.3 419.1 L513.8 419.1 L514.3 419.2 L514.8 419.2 L515.3 419.2 L515.8 419.1 L516.3 419.1 L516.8 419.1 L517.3 419.1 L517.8 419.1 L518.3 419.1 L518.8 419.1 L519.3 419.1 L519.8 419.1 L520.3 419.0 L520.8 419.0 L521.3 419.0 L521.8 419.0 L522.3 419.0 L522.8 419.0 L523.3 418.9 L523.8 418.9 L524.3 418.9 L524.8 418.9 L525.3 418.9 L525.8 418.9 L526.3 418.8 L526.8 418.8 L527.3 418.8 L527.8 418.8 L528.3 418.8 L528.8 418.8 L529.3 418.8 L529.8 418.8 L530.3 418.8 L530.8 418.8 L531.3 418.8 L531.8 418.8 L532.3 418.8 L532.8 418.8 L533.3 418.8 L533.8 418.8 L534.3 418.8 L534.8 418.8 L535.3 418.8 L535.8 418.8 L536.3 418.8 L536.8 418.8 L537.3 418.8 L537.8 418.8 L538.3 418.8 L538.8 418.8 L539.3 418.8 L539.8 418.8 L540.3 418.8 L540.8 418.8 L541.3 418.8 L541.8 418.8 L542.3 418.8 L542.8 418.8 L543.3 418.8 L543.8 418.8 L544.3 418.8 L544.8 418.8 L545.3 418.8 L545.8 418.8 L546.3 418.8" fill="none" stroke="#f5507a" stroke-width="2.3" stroke-linejoin="round"/>
</g>
<rect x="321.3" y="240.3" width="223.99999999999994" height="180.7" fill="none" stroke="#000" stroke-width="2"/>
<line x1="318.3" y1="420.6" x2="321.3" y2="420.6" stroke="#000" stroke-width="1.5"/>
<text x="315.5" y="424.6" font-size="11.5" font-weight="bold" text-anchor="end" fill="#000" >0</text>
<line x1="318.3" y1="384.6" x2="321.3" y2="384.6" stroke="#000" stroke-width="1.5"/>
<text x="315.5" y="388.6" font-size="11.5" font-weight="bold" text-anchor="end" fill="#000" >1</text>
<line x1="318.3" y1="348.5" x2="321.3" y2="348.5" stroke="#000" stroke-width="1.5"/>
<text x="315.5" y="352.5" font-size="11.5" font-weight="bold" text-anchor="end" fill="#000" >2</text>
<line x1="318.3" y1="312.5" x2="321.3" y2="312.5" stroke="#000" stroke-width="1.5"/>
<text x="315.5" y="316.5" font-size="11.5" font-weight="bold" text-anchor="end" fill="#000" >3</text>
<line x1="318.3" y1="276.4" x2="321.3" y2="276.4" stroke="#000" stroke-width="1.5"/>
<text x="315.5" y="280.4" font-size="11.5" font-weight="bold" text-anchor="end" fill="#000" >4</text>
<line x1="318.3" y1="240.4" x2="321.3" y2="240.4" stroke="#000" stroke-width="1.5"/>
<text x="315.5" y="244.4" font-size="11.5" font-weight="bold" text-anchor="end" fill="#000" >5</text>
<line x1="321.3" y1="421" x2="321.3" y2="424.5" stroke="#000" stroke-width="1.5"/>
<text x="321.3" y="436" font-size="11.5" font-weight="bold" text-anchor="middle" fill="#000" >0</text>
<line x1="358.5" y1="421" x2="358.5" y2="423" stroke="#000" stroke-width="1.5"/>
<line x1="395.7" y1="421" x2="395.7" y2="424.5" stroke="#000" stroke-width="1.5"/>
<text x="395.7" y="436" font-size="11.5" font-weight="bold" text-anchor="middle" fill="#000" >2</text>
<line x1="432.9" y1="421" x2="432.9" y2="423" stroke="#000" stroke-width="1.5"/>
<line x1="470.1" y1="421" x2="470.1" y2="424.5" stroke="#000" stroke-width="1.5"/>
<text x="470.1" y="436" font-size="11.5" font-weight="bold" text-anchor="middle" fill="#000" >4</text>
<line x1="507.3" y1="421" x2="507.3" y2="423" stroke="#000" stroke-width="1.5"/>
<line x1="544.5" y1="421" x2="544.5" y2="424.5" stroke="#000" stroke-width="1.5"/>
<text x="544.5" y="436" font-size="11.5" font-weight="bold" text-anchor="middle" fill="#000" >6</text>
<text x="367.3" y="448.3" font-size="15" font-weight="bold" text-anchor="start" fill="#000" >Radial Distance (&#197;)</text>
<text transform="translate(302.3 357.2) rotate(-90)" x="0" y="0" font-size="15" font-weight="bold" text-anchor="middle">|</text>
<text transform="translate(302.3 351.3) rotate(-90)" x="0" y="0" font-size="14" font-weight="normal" text-anchor="middle" font-family="Liberation Serif" font-style="italic">&#967;</text>
<text transform="translate(302.3 331.2) rotate(-90)" x="0" y="0" font-size="15" font-weight="bold" text-anchor="middle">(R)</text>
<text transform="translate(302.3 318.7) rotate(-90)" x="0" y="0" font-size="15" font-weight="bold" text-anchor="middle">|</text>
<text transform="translate(302.3 306.9) rotate(-90)" x="0" y="0" font-size="15" font-weight="bold" text-anchor="middle">&#197;</text>
<text transform="translate(298.2 297.8) rotate(-90)" x="0" y="0" font-size="8.5" font-weight="bold" text-anchor="middle">-3</text>
<text x="389.3" y="252" font-size="10.2" font-weight="bold" text-anchor="start" fill="#000" >Co-Co</text>
<text x="364.3" y="367.2" font-size="10.2" font-weight="bold" text-anchor="start" fill="#000" >Co-N</text>
<line x1="447.6" y1="249.4" x2="469.6" y2="249.4" stroke="#baa2e8" stroke-width="2.4"/>
<text x="471.5" y="252.8" font-size="9.4" font-weight="bold" text-anchor="start" fill="#000" >Co foil</text>
<line x1="447.6" y1="261.4" x2="469.6" y2="261.4" stroke="#4be2b2" stroke-width="2.4"/>
<text x="471.5" y="264.8" font-size="9.4" font-weight="bold" text-anchor="start" fill="#000" >CoPc</text>
<line x1="447.6" y1="273.4" x2="469.6" y2="273.4" stroke="#ffd662" stroke-width="2.4"/>
<text x="471.5" y="276.8" font-size="9.4" font-weight="bold" text-anchor="start" fill="#000" >CoO</text>
<line x1="447.6" y1="285.4" x2="469.6" y2="285.4" stroke="#7191e5" stroke-width="2.4"/>
<text x="471.5" y="288.8" font-size="9.4" font-weight="bold" text-anchor="start" fill="#000" >Co/N-PCMS</text>
<line x1="447.6" y1="297.4" x2="469.6" y2="297.4" stroke="#f5507a" stroke-width="2.4"/>
<text x="471.5" y="300.8" font-size="9.4" font-weight="bold" text-anchor="start" fill="#000" >CoSA/N-PCMS</text>
</svg>
</body></html>
